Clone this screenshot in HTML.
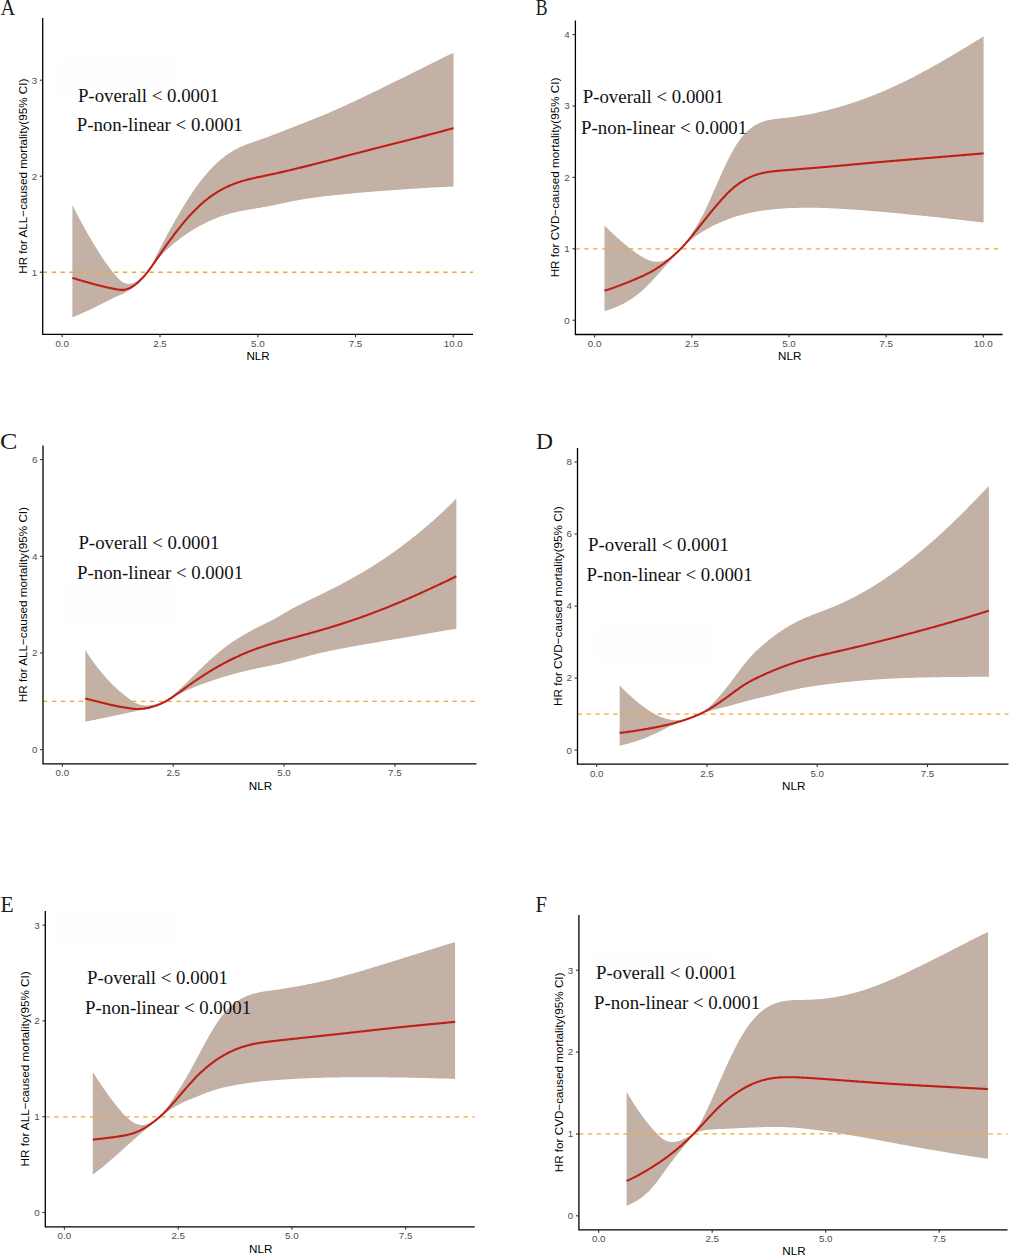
<!DOCTYPE html>
<html><head><meta charset="utf-8"><style>
html,body{margin:0;padding:0;background:#fff;}
svg{display:block;}
.lt{font-family:"Liberation Serif",serif;font-size:22.2px;fill:#1c1c1c;}
.pt{font-family:"Liberation Serif",serif;font-size:18.85px;fill:#111;}
.at{font-family:"Liberation Sans",sans-serif;font-size:9.8px;fill:#4d4d4d;}
.ti{font-family:"Liberation Sans",sans-serif;font-size:11.7px;fill:#000;}
</style></head><body>
<svg width="1010" height="1256" viewBox="0 0 1010 1256">
<rect width="1010" height="1256" fill="#fff"/>
<rect x="58" y="58" width="119" height="38.5" fill="#fdfefd"/>
<path d="M72.4,205.1 L73.4,207.1 L74.4,209.1 L75.4,211.1 L76.4,213.0 L77.4,214.9 L78.4,216.9 L79.4,218.7 L80.4,220.6 L81.4,222.5 L82.4,224.3 L83.4,226.1 L84.4,227.9 L85.4,229.7 L86.4,231.4 L87.4,233.2 L88.4,234.9 L89.4,236.6 L90.4,238.3 L91.4,240.0 L92.4,241.7 L93.4,243.4 L94.4,245.0 L95.4,246.7 L96.4,248.3 L97.4,249.9 L98.4,251.5 L99.4,253.1 L100.4,254.7 L101.4,256.2 L102.4,257.8 L103.4,259.3 L104.4,260.8 L105.4,262.2 L106.4,263.6 L107.4,265.0 L108.4,266.4 L109.4,267.8 L110.4,269.1 L111.4,270.4 L112.4,271.7 L113.4,272.9 L114.4,274.1 L115.4,275.3 L116.4,276.4 L117.4,277.5 L118.4,278.6 L119.4,279.6 L120.4,280.5 L121.4,281.3 L122.4,282.0 L123.4,282.6 L124.4,283.1 L125.4,283.4 L126.4,283.7 L127.4,283.8 L128.4,283.9 L129.4,283.8 L130.4,283.7 L131.4,283.5 L132.4,283.2 L133.4,282.9 L134.4,282.5 L135.4,282.0 L136.4,281.5 L137.4,280.9 L138.4,280.3 L139.4,279.6 L140.4,278.8 L141.4,278.0 L142.4,277.1 L143.4,276.1 L144.4,275.1 L145.4,274.1 L146.4,273.0 L147.2,272.2 L147.4,271.8 L148.4,270.3 L149.4,268.7 L150.4,267.0 L151.4,265.2 L152.4,263.3 L153.4,261.4 L154.4,259.4 L155.4,257.4 L156.4,255.4 L157.4,253.5 L158.4,251.6 L159.4,249.6 L160.4,247.7 L161.4,245.8 L162.4,243.9 L163.4,242.0 L164.4,240.1 L165.4,238.3 L166.4,236.4 L167.4,234.5 L168.4,232.7 L169.4,230.9 L170.4,229.1 L171.4,227.2 L172.4,225.5 L173.4,223.7 L174.4,221.9 L175.4,220.1 L176.4,218.4 L177.4,216.6 L178.4,214.9 L179.4,213.2 L180.4,211.5 L181.4,209.8 L182.4,208.2 L183.4,206.5 L184.4,204.9 L185.4,203.3 L186.4,201.7 L187.4,200.1 L188.4,198.5 L189.4,197.0 L190.4,195.4 L191.4,193.9 L192.4,192.4 L193.4,191.0 L194.4,189.5 L195.4,188.1 L196.4,186.7 L197.4,185.3 L198.4,184.0 L199.4,182.6 L200.4,181.3 L201.4,180.0 L202.4,178.8 L203.4,177.5 L204.4,176.3 L205.4,175.1 L206.4,173.9 L207.4,172.8 L208.4,171.7 L209.4,170.6 L210.4,169.5 L211.4,168.4 L212.4,167.4 L213.4,166.3 L214.4,165.3 L215.4,164.4 L216.4,163.4 L217.4,162.5 L218.4,161.6 L219.4,160.7 L220.4,159.8 L221.4,159.0 L222.4,158.2 L223.4,157.4 L224.4,156.6 L225.4,155.9 L226.4,155.1 L227.4,154.4 L228.4,153.7 L229.4,153.1 L230.4,152.4 L231.4,151.8 L232.4,151.2 L233.4,150.6 L234.4,150.1 L235.4,149.5 L236.4,149.0 L237.4,148.5 L238.4,148.0 L239.4,147.5 L240.4,147.0 L241.4,146.6 L242.4,146.2 L243.4,145.7 L244.4,145.3 L245.4,144.9 L246.4,144.5 L247.4,144.1 L248.4,143.8 L249.4,143.4 L250.4,143.0 L251.4,142.7 L252.4,142.3 L253.4,142.0 L254.4,141.6 L255.4,141.3 L256.4,140.9 L257.4,140.6 L258.4,140.2 L259.4,139.9 L260.4,139.5 L261.4,139.2 L262.4,138.8 L263.5,138.5 L264.5,138.1 L265.5,137.8 L266.5,137.4 L267.5,137.0 L268.5,136.7 L269.5,136.3 L270.5,135.9 L271.5,135.5 L272.5,135.1 L273.5,134.8 L274.5,134.4 L275.5,134.0 L276.5,133.6 L277.5,133.2 L278.5,132.8 L279.5,132.4 L280.5,132.0 L281.5,131.7 L282.5,131.3 L283.5,130.9 L284.5,130.5 L285.5,130.1 L286.5,129.7 L287.5,129.3 L288.5,128.9 L289.5,128.5 L290.5,128.1 L291.5,127.7 L292.5,127.4 L293.5,127.0 L294.5,126.6 L295.5,126.2 L296.5,125.8 L297.5,125.4 L298.5,125.0 L299.5,124.6 L300.5,124.2 L301.5,123.9 L302.5,123.5 L303.5,123.1 L304.5,122.7 L305.5,122.3 L306.5,121.9 L307.5,121.5 L308.5,121.1 L309.5,120.7 L310.5,120.3 L311.5,119.9 L312.5,119.5 L313.5,119.1 L314.5,118.7 L315.5,118.3 L316.5,117.9 L317.5,117.5 L318.5,117.1 L319.5,116.7 L320.5,116.3 L321.5,115.9 L322.5,115.5 L323.5,115.0 L324.5,114.6 L325.5,114.2 L326.5,113.8 L327.5,113.4 L328.5,112.9 L329.5,112.5 L330.5,112.1 L331.5,111.6 L332.5,111.2 L333.5,110.8 L334.5,110.3 L335.5,109.9 L336.5,109.5 L337.5,109.0 L338.5,108.6 L339.5,108.1 L340.5,107.7 L341.5,107.2 L342.5,106.8 L343.5,106.3 L344.5,105.9 L345.5,105.4 L346.5,105.0 L347.5,104.5 L348.5,104.1 L349.5,103.6 L350.5,103.1 L351.5,102.7 L352.5,102.2 L353.5,101.7 L354.5,101.3 L355.5,100.8 L356.5,100.3 L357.5,99.8 L358.5,99.4 L359.5,98.9 L360.5,98.4 L361.5,97.9 L362.5,97.5 L363.5,97.0 L364.5,96.5 L365.5,96.0 L366.5,95.5 L367.5,95.1 L368.5,94.6 L369.5,94.1 L370.5,93.6 L371.5,93.1 L372.5,92.6 L373.5,92.1 L374.5,91.7 L375.5,91.2 L376.5,90.7 L377.5,90.2 L378.5,89.7 L379.5,89.2 L380.5,88.7 L381.5,88.2 L382.5,87.7 L383.5,87.3 L384.5,86.8 L385.5,86.3 L386.5,85.8 L387.5,85.3 L388.5,84.8 L389.5,84.3 L390.5,83.8 L391.5,83.3 L392.5,82.8 L393.5,82.3 L394.5,81.8 L395.5,81.3 L396.5,80.8 L397.5,80.3 L398.5,79.9 L399.5,79.4 L400.5,78.9 L401.5,78.4 L402.5,77.9 L403.5,77.4 L404.5,76.9 L405.5,76.4 L406.5,75.9 L407.5,75.4 L408.5,74.9 L409.5,74.4 L410.5,73.9 L411.5,73.4 L412.5,72.9 L413.5,72.4 L414.5,71.9 L415.5,71.4 L416.5,70.9 L417.5,70.5 L418.5,70.0 L419.5,69.5 L420.5,69.0 L421.5,68.5 L422.5,68.0 L423.5,67.5 L424.5,67.0 L425.5,66.5 L426.5,66.0 L427.5,65.5 L428.5,65.0 L429.5,64.5 L430.5,64.0 L431.5,63.5 L432.5,63.0 L433.5,62.5 L434.5,62.0 L435.5,61.5 L436.5,61.0 L437.5,60.5 L438.5,60.0 L439.5,59.5 L440.5,59.0 L441.5,58.5 L442.5,58.0 L443.5,57.5 L444.5,57.0 L445.5,56.6 L446.5,56.1 L447.5,55.6 L448.5,55.1 L449.5,54.6 L450.5,54.2 L451.5,53.7 L452.5,53.2 L453.5,52.8 L453.5,186.7 L452.5,186.7 L451.5,186.7 L450.5,186.7 L449.5,186.7 L448.5,186.7 L447.5,186.8 L446.5,186.8 L445.5,186.8 L444.5,186.9 L443.5,186.9 L442.5,187.0 L441.5,187.0 L440.5,187.1 L439.5,187.1 L438.5,187.2 L437.5,187.2 L436.5,187.3 L435.5,187.3 L434.5,187.4 L433.5,187.4 L432.5,187.5 L431.5,187.6 L430.5,187.6 L429.5,187.7 L428.5,187.8 L427.5,187.8 L426.5,187.9 L425.5,187.9 L424.5,188.0 L423.5,188.1 L422.5,188.1 L421.5,188.2 L420.5,188.3 L419.5,188.3 L418.5,188.4 L417.5,188.5 L416.5,188.5 L415.5,188.6 L414.5,188.7 L413.5,188.7 L412.5,188.8 L411.5,188.9 L410.5,188.9 L409.5,189.0 L408.5,189.1 L407.5,189.1 L406.5,189.2 L405.5,189.3 L404.5,189.3 L403.5,189.4 L402.5,189.5 L401.5,189.5 L400.5,189.6 L399.5,189.7 L398.5,189.7 L397.5,189.8 L396.5,189.9 L395.5,189.9 L394.5,190.0 L393.5,190.1 L392.5,190.1 L391.5,190.2 L390.5,190.3 L389.5,190.4 L388.5,190.4 L387.5,190.5 L386.5,190.6 L385.5,190.7 L384.5,190.7 L383.5,190.8 L382.5,190.9 L381.5,191.0 L380.5,191.0 L379.5,191.1 L378.5,191.2 L377.5,191.3 L376.5,191.3 L375.5,191.4 L374.5,191.5 L373.5,191.6 L372.5,191.7 L371.5,191.7 L370.5,191.8 L369.5,191.9 L368.5,192.0 L367.5,192.1 L366.5,192.2 L365.5,192.2 L364.5,192.3 L363.5,192.4 L362.5,192.5 L361.5,192.6 L360.5,192.7 L359.5,192.8 L358.5,192.8 L357.5,192.9 L356.5,193.0 L355.5,193.1 L354.5,193.2 L353.5,193.3 L352.5,193.4 L351.5,193.5 L350.5,193.6 L349.5,193.7 L348.5,193.8 L347.5,193.9 L346.5,194.0 L345.5,194.1 L344.5,194.2 L343.5,194.3 L342.5,194.4 L341.5,194.5 L340.5,194.6 L339.5,194.7 L338.5,194.8 L337.5,194.9 L336.5,195.0 L335.5,195.1 L334.5,195.2 L333.5,195.3 L332.5,195.4 L331.5,195.5 L330.5,195.6 L329.5,195.8 L328.5,195.9 L327.5,196.0 L326.5,196.1 L325.5,196.2 L324.5,196.3 L323.5,196.5 L322.5,196.6 L321.5,196.7 L320.5,196.8 L319.5,197.0 L318.5,197.1 L317.5,197.2 L316.5,197.3 L315.5,197.5 L314.5,197.6 L313.5,197.7 L312.5,197.9 L311.5,198.0 L310.5,198.2 L309.5,198.3 L308.5,198.5 L307.5,198.6 L306.5,198.8 L305.5,198.9 L304.5,199.1 L303.5,199.2 L302.5,199.4 L301.5,199.6 L300.5,199.7 L299.5,199.9 L298.5,200.1 L297.5,200.3 L296.5,200.5 L295.5,200.7 L294.5,200.8 L293.5,201.0 L292.5,201.2 L291.5,201.4 L290.5,201.6 L289.5,201.8 L288.5,202.1 L287.5,202.3 L286.5,202.5 L285.5,202.7 L284.5,202.9 L283.5,203.1 L282.5,203.3 L281.5,203.5 L280.5,203.7 L279.5,204.0 L278.5,204.2 L277.5,204.4 L276.5,204.6 L275.5,204.8 L274.5,205.0 L273.5,205.2 L272.5,205.4 L271.5,205.6 L270.5,205.8 L269.5,206.0 L268.5,206.2 L267.5,206.4 L266.5,206.6 L265.5,206.8 L264.5,207.0 L263.5,207.1 L262.4,207.3 L261.4,207.5 L260.4,207.7 L259.4,207.8 L258.4,208.0 L257.4,208.2 L256.4,208.3 L255.4,208.5 L254.4,208.7 L253.4,208.9 L252.4,209.0 L251.4,209.2 L250.4,209.4 L249.4,209.5 L248.4,209.7 L247.4,209.9 L246.4,210.1 L245.4,210.2 L244.4,210.4 L243.4,210.6 L242.4,210.8 L241.4,211.0 L240.4,211.2 L239.4,211.4 L238.4,211.6 L237.4,211.8 L236.4,212.1 L235.4,212.3 L234.4,212.5 L233.4,212.8 L232.4,213.0 L231.4,213.3 L230.4,213.5 L229.4,213.8 L228.4,214.1 L227.4,214.4 L226.4,214.7 L225.4,215.0 L224.4,215.3 L223.4,215.6 L222.4,215.9 L221.4,216.3 L220.4,216.6 L219.4,217.0 L218.4,217.3 L217.4,217.7 L216.4,218.1 L215.4,218.5 L214.4,218.9 L213.4,219.3 L212.4,219.7 L211.4,220.2 L210.4,220.6 L209.4,221.1 L208.4,221.5 L207.4,222.0 L206.4,222.5 L205.4,223.0 L204.4,223.5 L203.4,224.0 L202.4,224.5 L201.4,225.0 L200.4,225.6 L199.4,226.1 L198.4,226.6 L197.4,227.2 L196.4,227.8 L195.4,228.4 L194.4,228.9 L193.4,229.5 L192.4,230.2 L191.4,230.8 L190.4,231.4 L189.4,232.1 L188.4,232.7 L187.4,233.4 L186.4,234.0 L185.4,234.7 L184.4,235.4 L183.4,236.1 L182.4,236.9 L181.4,237.6 L180.4,238.3 L179.4,239.1 L178.4,239.9 L177.4,240.7 L176.4,241.5 L175.4,242.3 L174.4,243.1 L173.4,243.9 L172.4,244.8 L171.4,245.6 L170.4,246.5 L169.4,247.4 L168.4,248.3 L167.4,249.2 L166.4,250.2 L165.4,251.1 L164.4,252.1 L163.4,253.1 L162.4,254.1 L161.4,255.2 L160.4,256.3 L159.4,257.4 L158.4,258.5 L157.4,259.7 L156.4,260.9 L155.4,262.2 L154.4,263.6 L153.4,265.0 L152.4,266.3 L151.4,267.6 L150.4,268.7 L149.4,269.8 L148.4,270.9 L147.4,271.9 L147.2,272.2 L146.4,273.3 L145.4,274.7 L144.4,276.1 L143.4,277.4 L142.4,278.6 L141.4,279.7 L140.4,280.8 L139.4,281.8 L138.4,282.8 L137.4,283.8 L136.4,284.7 L135.4,285.6 L134.4,286.4 L133.4,287.2 L132.4,288.0 L131.4,288.7 L130.4,289.4 L129.4,290.0 L128.4,290.7 L127.4,291.3 L126.4,291.8 L125.4,292.4 L124.4,292.9 L123.4,293.4 L122.4,293.9 L121.4,294.4 L120.4,294.8 L119.4,295.3 L118.4,295.7 L117.4,296.2 L116.4,296.6 L115.4,297.1 L114.4,297.5 L113.4,298.0 L112.4,298.5 L111.4,299.0 L110.4,299.5 L109.4,300.0 L108.4,300.5 L107.4,301.0 L106.4,301.5 L105.4,302.0 L104.4,302.5 L103.4,303.1 L102.4,303.6 L101.4,304.1 L100.4,304.6 L99.4,305.1 L98.4,305.6 L97.4,306.1 L96.4,306.6 L95.4,307.0 L94.4,307.5 L93.4,308.0 L92.4,308.5 L91.4,309.0 L90.4,309.4 L89.4,309.9 L88.4,310.4 L87.4,310.8 L86.4,311.3 L85.4,311.7 L84.4,312.2 L83.4,312.6 L82.4,313.1 L81.4,313.5 L80.4,313.9 L79.4,314.4 L78.4,314.8 L77.4,315.2 L76.4,315.7 L75.4,316.1 L74.4,316.5 L73.4,317.0 L72.4,317.4 Z" fill="#c4b1a6"/>
<line x1="42.7" y1="272.2" x2="473.0" y2="272.2" stroke="#f3a632" stroke-width="1.35" stroke-dasharray="4.45 4.45"/>
<path d="M72.4,277.9 L73.4,278.2 L74.4,278.5 L75.4,278.8 L76.4,279.1 L77.4,279.4 L78.4,279.7 L79.4,280.0 L80.4,280.3 L81.4,280.6 L82.4,280.9 L83.4,281.2 L84.4,281.4 L85.4,281.7 L86.4,282.0 L87.4,282.3 L88.4,282.6 L89.4,282.9 L90.4,283.2 L91.4,283.4 L92.4,283.7 L93.4,284.0 L94.4,284.3 L95.4,284.5 L96.4,284.8 L97.4,285.1 L98.4,285.3 L99.4,285.6 L100.4,285.8 L101.4,286.1 L102.4,286.3 L103.4,286.5 L104.4,286.8 L105.4,287.0 L106.4,287.2 L107.4,287.5 L108.4,287.7 L109.4,287.9 L110.4,288.1 L111.4,288.3 L112.4,288.5 L113.4,288.7 L114.4,288.9 L115.4,289.1 L116.4,289.3 L117.4,289.5 L118.4,289.6 L119.4,289.8 L120.4,289.9 L121.4,289.9 L122.4,289.9 L123.4,289.9 L124.4,289.8 L125.4,289.6 L126.4,289.3 L127.4,289.0 L128.4,288.6 L129.4,288.2 L130.4,287.7 L131.4,287.2 L132.4,286.6 L133.4,285.9 L134.4,285.3 L135.4,284.5 L136.4,283.7 L137.4,282.9 L138.4,282.0 L139.4,281.1 L140.4,280.1 L141.4,279.1 L142.4,278.1 L143.4,277.0 L144.4,275.8 L145.4,274.6 L146.4,273.4 L147.2,272.5 L147.4,272.2 L148.4,270.9 L149.4,269.6 L150.4,268.2 L151.4,266.9 L152.4,265.5 L153.4,264.0 L154.4,262.6 L155.4,261.2 L156.4,259.7 L157.4,258.2 L158.4,256.7 L159.4,255.3 L160.4,253.8 L161.4,252.3 L162.4,250.9 L163.4,249.4 L164.4,248.0 L165.4,246.6 L166.4,245.2 L167.4,243.8 L168.4,242.4 L169.4,241.0 L170.4,239.6 L171.4,238.3 L172.4,236.9 L173.4,235.6 L174.4,234.2 L175.4,232.9 L176.4,231.6 L177.4,230.4 L178.4,229.1 L179.4,227.8 L180.4,226.6 L181.4,225.3 L182.4,224.1 L183.4,222.9 L184.4,221.7 L185.4,220.5 L186.4,219.4 L187.4,218.2 L188.4,217.1 L189.4,216.0 L190.4,214.9 L191.4,213.8 L192.4,212.8 L193.4,211.7 L194.4,210.7 L195.4,209.7 L196.4,208.7 L197.4,207.7 L198.4,206.8 L199.4,205.8 L200.4,204.9 L201.4,204.0 L202.4,203.1 L203.4,202.2 L204.4,201.4 L205.4,200.6 L206.4,199.8 L207.4,199.0 L208.4,198.2 L209.4,197.4 L210.4,196.7 L211.4,196.0 L212.4,195.3 L213.4,194.6 L214.4,193.9 L215.4,193.3 L216.4,192.6 L217.4,192.0 L218.4,191.4 L219.4,190.8 L220.4,190.2 L221.4,189.7 L222.4,189.1 L223.4,188.6 L224.4,188.1 L225.4,187.6 L226.4,187.1 L227.4,186.6 L228.4,186.2 L229.4,185.7 L230.4,185.3 L231.4,184.9 L232.4,184.5 L233.4,184.1 L234.4,183.7 L235.4,183.3 L236.4,183.0 L237.4,182.6 L238.4,182.3 L239.4,182.0 L240.4,181.6 L241.4,181.3 L242.4,181.0 L243.4,180.7 L244.4,180.5 L245.4,180.2 L246.4,179.9 L247.4,179.6 L248.4,179.4 L249.4,179.1 L250.4,178.9 L251.4,178.7 L252.4,178.4 L253.4,178.2 L254.4,178.0 L255.4,177.8 L256.4,177.5 L257.4,177.3 L258.4,177.1 L259.4,176.9 L260.4,176.7 L261.4,176.5 L262.4,176.3 L263.5,176.1 L264.5,175.8 L265.5,175.6 L266.5,175.4 L267.5,175.2 L268.5,175.0 L269.5,174.8 L270.5,174.6 L271.5,174.3 L272.5,174.1 L273.5,173.9 L274.5,173.7 L275.5,173.5 L276.5,173.3 L277.5,173.0 L278.5,172.8 L279.5,172.6 L280.5,172.4 L281.5,172.1 L282.5,171.9 L283.5,171.7 L284.5,171.4 L285.5,171.2 L286.5,171.0 L287.5,170.7 L288.5,170.5 L289.5,170.3 L290.5,170.0 L291.5,169.8 L292.5,169.6 L293.5,169.3 L294.5,169.1 L295.5,168.8 L296.5,168.6 L297.5,168.3 L298.5,168.1 L299.5,167.8 L300.5,167.6 L301.5,167.4 L302.5,167.1 L303.5,166.9 L304.5,166.6 L305.5,166.4 L306.5,166.1 L307.5,165.9 L308.5,165.6 L309.5,165.4 L310.5,165.1 L311.5,164.9 L312.5,164.6 L313.5,164.3 L314.5,164.1 L315.5,163.8 L316.5,163.6 L317.5,163.3 L318.5,163.1 L319.5,162.8 L320.5,162.6 L321.5,162.3 L322.5,162.0 L323.5,161.8 L324.5,161.5 L325.5,161.3 L326.5,161.0 L327.5,160.8 L328.5,160.5 L329.5,160.2 L330.5,160.0 L331.5,159.7 L332.5,159.5 L333.5,159.2 L334.5,159.0 L335.5,158.7 L336.5,158.4 L337.5,158.2 L338.5,157.9 L339.5,157.7 L340.5,157.4 L341.5,157.1 L342.5,156.9 L343.5,156.6 L344.5,156.4 L345.5,156.1 L346.5,155.8 L347.5,155.6 L348.5,155.3 L349.5,155.1 L350.5,154.8 L351.5,154.5 L352.5,154.3 L353.5,154.0 L354.5,153.8 L355.5,153.5 L356.5,153.2 L357.5,153.0 L358.5,152.7 L359.5,152.5 L360.5,152.2 L361.5,151.9 L362.5,151.7 L363.5,151.4 L364.5,151.2 L365.5,150.9 L366.5,150.7 L367.5,150.4 L368.5,150.1 L369.5,149.9 L370.5,149.6 L371.5,149.4 L372.5,149.1 L373.5,148.9 L374.5,148.6 L375.5,148.3 L376.5,148.1 L377.5,147.8 L378.5,147.6 L379.5,147.3 L380.5,147.1 L381.5,146.8 L382.5,146.6 L383.5,146.3 L384.5,146.0 L385.5,145.8 L386.5,145.5 L387.5,145.3 L388.5,145.0 L389.5,144.8 L390.5,144.5 L391.5,144.3 L392.5,144.0 L393.5,143.8 L394.5,143.5 L395.5,143.3 L396.5,143.0 L397.5,142.8 L398.5,142.5 L399.5,142.2 L400.5,142.0 L401.5,141.7 L402.5,141.5 L403.5,141.2 L404.5,141.0 L405.5,140.7 L406.5,140.5 L407.5,140.2 L408.5,140.0 L409.5,139.7 L410.5,139.5 L411.5,139.2 L412.5,138.9 L413.5,138.7 L414.5,138.4 L415.5,138.2 L416.5,137.9 L417.5,137.7 L418.5,137.4 L419.5,137.2 L420.5,136.9 L421.5,136.6 L422.5,136.4 L423.5,136.1 L424.5,135.9 L425.5,135.6 L426.5,135.4 L427.5,135.1 L428.5,134.8 L429.5,134.6 L430.5,134.3 L431.5,134.0 L432.5,133.8 L433.5,133.5 L434.5,133.3 L435.5,133.0 L436.5,132.7 L437.5,132.5 L438.5,132.2 L439.5,131.9 L440.5,131.7 L441.5,131.4 L442.5,131.1 L443.5,130.9 L444.5,130.6 L445.5,130.3 L446.5,130.1 L447.5,129.8 L448.5,129.5 L449.5,129.2 L450.5,129.0 L451.5,128.7 L452.5,128.4 L453.5,128.1" fill="none" stroke="#bd1f16" stroke-width="2.1" stroke-linejoin="round" stroke-linecap="butt"/>
<path d="M42.7,18.0 L42.7,334.4 L473.0,334.4" fill="none" stroke="#000" stroke-width="1.3" stroke-linecap="butt"/>
<line x1="39.8" y1="272.2" x2="42.7" y2="272.2" stroke="#333" stroke-width="1.1"/>
<text class="at" x="37.1" y="275.6" text-anchor="end">1</text>
<line x1="39.8" y1="176.2" x2="42.7" y2="176.2" stroke="#333" stroke-width="1.1"/>
<text class="at" x="37.1" y="179.5" text-anchor="end">2</text>
<line x1="39.8" y1="80.2" x2="42.7" y2="80.2" stroke="#333" stroke-width="1.1"/>
<text class="at" x="37.1" y="83.5" text-anchor="end">3</text>
<line x1="62.2" y1="334.4" x2="62.2" y2="337.3" stroke="#333" stroke-width="1.1"/>
<text class="at" x="62.2" y="346.7" text-anchor="middle">0.0</text>
<line x1="160.0" y1="334.4" x2="160.0" y2="337.3" stroke="#333" stroke-width="1.1"/>
<text class="at" x="160.0" y="346.7" text-anchor="middle">2.5</text>
<line x1="257.8" y1="334.4" x2="257.8" y2="337.3" stroke="#333" stroke-width="1.1"/>
<text class="at" x="257.8" y="346.7" text-anchor="middle">5.0</text>
<line x1="355.5" y1="334.4" x2="355.5" y2="337.3" stroke="#333" stroke-width="1.1"/>
<text class="at" x="355.5" y="346.7" text-anchor="middle">7.5</text>
<line x1="453.3" y1="334.4" x2="453.3" y2="337.3" stroke="#333" stroke-width="1.1"/>
<text class="at" x="453.3" y="346.7" text-anchor="middle">10.0</text>
<text class="ti" transform="translate(26.7,176.2) rotate(-90)" text-anchor="middle">HR for ALL−caused mortality(95% CI)</text>
<text class="ti" x="258.1" y="359.9" text-anchor="middle">NLR</text>
<text class="pt" x="77.9" y="101.5">P-overall &lt; 0.0001</text>
<text class="pt" x="76.7" y="131.2">P-non-linear &lt; 0.0001</text>
<text class="lt" transform="translate(0.62,14.65) scale(0.92,1)">A</text>
<path d="M604.5,225.5 L605.5,226.5 L606.5,227.5 L607.5,228.5 L608.5,229.5 L609.5,230.4 L610.5,231.4 L611.5,232.3 L612.5,233.3 L613.5,234.2 L614.5,235.1 L615.5,236.0 L616.5,237.0 L617.5,237.9 L618.5,238.8 L619.5,239.6 L620.5,240.5 L621.5,241.4 L622.5,242.2 L623.5,243.1 L624.5,243.9 L625.5,244.8 L626.5,245.6 L627.5,246.4 L628.5,247.2 L629.5,248.0 L630.5,248.8 L631.5,249.5 L632.5,250.3 L633.5,251.1 L634.5,251.8 L635.5,252.5 L636.5,253.2 L637.5,253.9 L638.5,254.6 L639.5,255.3 L640.5,255.9 L641.5,256.5 L642.5,257.1 L643.5,257.7 L644.5,258.2 L645.5,258.7 L646.5,259.2 L647.5,259.6 L648.5,260.0 L649.5,260.4 L650.5,260.7 L651.5,261.0 L652.5,261.2 L653.5,261.4 L654.5,261.6 L655.5,261.7 L656.5,261.7 L657.5,261.7 L658.5,261.7 L659.5,261.6 L660.5,261.4 L661.5,261.2 L662.5,261.0 L663.5,260.7 L664.5,260.3 L665.5,259.9 L666.5,259.5 L667.5,259.0 L668.5,258.5 L669.5,257.9 L670.5,257.3 L671.5,256.6 L672.5,255.9 L673.5,255.1 L674.5,254.4 L675.5,253.5 L676.5,252.7 L677.5,251.8 L678.5,251.0 L679.5,250.1 L680.5,249.2 L680.9,248.8 L681.5,248.1 L682.5,247.0 L683.5,245.8 L684.5,244.5 L685.5,243.2 L686.5,241.9 L687.5,240.4 L688.5,238.9 L689.5,237.4 L690.5,235.9 L691.5,234.3 L692.5,232.7 L693.5,231.1 L694.5,229.5 L695.5,227.8 L696.5,226.2 L697.5,224.5 L698.5,222.8 L699.5,221.1 L700.5,219.3 L701.5,217.5 L702.5,215.6 L703.5,213.7 L704.5,211.7 L705.5,209.6 L706.5,207.5 L707.5,205.4 L708.5,203.2 L709.5,200.9 L710.5,198.7 L711.5,196.4 L712.5,194.1 L713.5,191.8 L714.5,189.5 L715.5,187.2 L716.5,185.0 L717.5,182.7 L718.5,180.4 L719.5,178.2 L720.5,175.9 L721.5,173.7 L722.5,171.5 L723.5,169.3 L724.5,167.2 L725.5,165.1 L726.5,163.0 L727.5,160.9 L728.5,158.9 L729.5,156.9 L730.5,155.0 L731.5,153.1 L732.5,151.3 L733.5,149.5 L734.5,147.8 L735.5,146.2 L736.5,144.6 L737.5,143.0 L738.5,141.6 L739.5,140.2 L740.5,138.8 L741.5,137.5 L742.5,136.3 L743.5,135.2 L744.5,134.1 L745.5,133.0 L746.5,132.0 L747.5,131.1 L748.5,130.2 L749.5,129.3 L750.5,128.5 L751.5,127.7 L752.5,127.0 L753.5,126.3 L754.5,125.7 L755.5,125.1 L756.5,124.5 L757.5,124.0 L758.5,123.5 L759.5,123.0 L760.5,122.6 L761.5,122.2 L762.5,121.8 L763.5,121.5 L764.5,121.1 L765.5,120.9 L766.5,120.6 L767.5,120.3 L768.5,120.1 L769.5,119.9 L770.5,119.7 L771.5,119.5 L772.5,119.4 L773.5,119.2 L774.5,119.1 L775.5,119.0 L776.5,118.9 L777.5,118.7 L778.5,118.6 L779.5,118.5 L780.5,118.4 L781.5,118.3 L782.5,118.2 L783.5,118.1 L784.5,118.0 L785.5,117.9 L786.5,117.8 L787.5,117.7 L788.5,117.5 L789.5,117.4 L790.5,117.3 L791.5,117.1 L792.5,117.0 L793.5,116.9 L794.6,116.7 L795.6,116.6 L796.6,116.4 L797.6,116.3 L798.6,116.1 L799.6,116.0 L800.6,115.8 L801.6,115.6 L802.6,115.5 L803.6,115.3 L804.6,115.1 L805.6,114.9 L806.6,114.8 L807.6,114.6 L808.6,114.4 L809.6,114.2 L810.6,114.0 L811.6,113.8 L812.6,113.6 L813.6,113.4 L814.6,113.2 L815.6,112.9 L816.6,112.7 L817.6,112.5 L818.6,112.3 L819.6,112.1 L820.6,111.8 L821.6,111.6 L822.6,111.4 L823.6,111.1 L824.6,110.9 L825.6,110.6 L826.6,110.4 L827.6,110.1 L828.6,109.9 L829.6,109.6 L830.6,109.3 L831.6,109.1 L832.6,108.8 L833.6,108.5 L834.6,108.3 L835.6,108.0 L836.6,107.7 L837.6,107.4 L838.6,107.1 L839.6,106.9 L840.6,106.6 L841.6,106.3 L842.6,106.0 L843.6,105.7 L844.6,105.4 L845.6,105.1 L846.6,104.8 L847.6,104.4 L848.6,104.1 L849.6,103.8 L850.6,103.5 L851.6,103.2 L852.6,102.8 L853.6,102.5 L854.6,102.2 L855.6,101.8 L856.6,101.5 L857.6,101.2 L858.6,100.8 L859.6,100.5 L860.6,100.1 L861.6,99.8 L862.6,99.4 L863.6,99.0 L864.6,98.7 L865.6,98.3 L866.6,97.9 L867.6,97.6 L868.6,97.2 L869.6,96.8 L870.6,96.4 L871.6,96.0 L872.6,95.6 L873.6,95.2 L874.6,94.8 L875.6,94.4 L876.6,94.0 L877.6,93.6 L878.6,93.2 L879.6,92.8 L880.6,92.4 L881.6,92.0 L882.6,91.5 L883.6,91.1 L884.6,90.7 L885.6,90.2 L886.6,89.8 L887.6,89.3 L888.6,88.9 L889.6,88.5 L890.6,88.0 L891.6,87.5 L892.6,87.1 L893.6,86.6 L894.6,86.2 L895.6,85.7 L896.6,85.2 L897.6,84.8 L898.6,84.3 L899.6,83.8 L900.6,83.3 L901.6,82.9 L902.6,82.4 L903.6,81.9 L904.6,81.4 L905.6,80.9 L906.6,80.4 L907.6,79.9 L908.6,79.4 L909.6,78.9 L910.6,78.4 L911.6,77.9 L912.6,77.4 L913.6,76.9 L914.6,76.4 L915.6,75.8 L916.6,75.3 L917.6,74.8 L918.6,74.3 L919.6,73.7 L920.6,73.2 L921.6,72.7 L922.6,72.2 L923.6,71.6 L924.6,71.1 L925.6,70.5 L926.6,70.0 L927.6,69.5 L928.6,68.9 L929.6,68.4 L930.6,67.8 L931.6,67.3 L932.6,66.7 L933.6,66.1 L934.6,65.6 L935.6,65.0 L936.6,64.5 L937.6,63.9 L938.6,63.3 L939.6,62.8 L940.6,62.2 L941.6,61.6 L942.6,61.0 L943.6,60.5 L944.6,59.9 L945.6,59.3 L946.6,58.7 L947.6,58.2 L948.6,57.6 L949.6,57.0 L950.6,56.4 L951.6,55.8 L952.6,55.2 L953.6,54.6 L954.6,54.0 L955.6,53.4 L956.6,52.8 L957.6,52.2 L958.6,51.6 L959.6,51.0 L960.6,50.4 L961.6,49.8 L962.6,49.2 L963.6,48.6 L964.6,48.0 L965.6,47.4 L966.6,46.8 L967.6,46.2 L968.6,45.6 L969.6,44.9 L970.6,44.3 L971.6,43.7 L972.6,43.1 L973.6,42.5 L974.6,41.9 L975.6,41.3 L976.6,40.6 L977.6,40.0 L978.6,39.4 L979.6,38.8 L980.6,38.2 L981.6,37.6 L982.6,36.9 L983.6,36.3 L983.6,222.6 L982.6,222.4 L981.6,222.3 L980.6,222.2 L979.6,222.1 L978.6,222.0 L977.6,221.9 L976.6,221.7 L975.6,221.6 L974.6,221.5 L973.6,221.4 L972.6,221.3 L971.6,221.1 L970.6,221.0 L969.6,220.9 L968.6,220.8 L967.6,220.7 L966.6,220.6 L965.6,220.4 L964.6,220.3 L963.6,220.2 L962.6,220.1 L961.6,220.0 L960.6,219.9 L959.6,219.8 L958.6,219.6 L957.6,219.5 L956.6,219.4 L955.6,219.3 L954.6,219.2 L953.6,219.1 L952.6,219.0 L951.6,218.9 L950.6,218.7 L949.6,218.6 L948.6,218.5 L947.6,218.4 L946.6,218.3 L945.6,218.2 L944.6,218.1 L943.6,218.0 L942.6,217.9 L941.6,217.8 L940.6,217.7 L939.6,217.6 L938.6,217.5 L937.6,217.3 L936.6,217.2 L935.6,217.1 L934.6,217.0 L933.6,216.9 L932.6,216.8 L931.6,216.7 L930.6,216.6 L929.6,216.5 L928.6,216.4 L927.6,216.3 L926.6,216.2 L925.6,216.1 L924.6,216.0 L923.6,215.9 L922.6,215.8 L921.6,215.7 L920.6,215.6 L919.6,215.5 L918.6,215.4 L917.6,215.3 L916.6,215.2 L915.6,215.1 L914.6,215.0 L913.6,214.9 L912.6,214.8 L911.6,214.7 L910.6,214.6 L909.6,214.5 L908.6,214.4 L907.6,214.3 L906.6,214.2 L905.6,214.1 L904.6,214.0 L903.6,213.9 L902.6,213.8 L901.6,213.7 L900.6,213.6 L899.6,213.5 L898.6,213.4 L897.6,213.3 L896.6,213.2 L895.6,213.1 L894.6,213.0 L893.6,212.9 L892.6,212.8 L891.6,212.7 L890.6,212.6 L889.6,212.5 L888.6,212.4 L887.6,212.3 L886.6,212.2 L885.6,212.2 L884.6,212.1 L883.6,212.0 L882.6,211.9 L881.6,211.8 L880.6,211.7 L879.6,211.6 L878.6,211.5 L877.6,211.4 L876.6,211.4 L875.6,211.3 L874.6,211.2 L873.6,211.1 L872.6,211.0 L871.6,210.9 L870.6,210.9 L869.6,210.8 L868.6,210.7 L867.6,210.6 L866.6,210.5 L865.6,210.5 L864.6,210.4 L863.6,210.3 L862.6,210.2 L861.6,210.2 L860.6,210.1 L859.6,210.0 L858.6,210.0 L857.6,209.9 L856.6,209.8 L855.6,209.7 L854.6,209.7 L853.6,209.6 L852.6,209.5 L851.6,209.5 L850.6,209.4 L849.6,209.3 L848.6,209.3 L847.6,209.2 L846.6,209.2 L845.6,209.1 L844.6,209.0 L843.6,209.0 L842.6,208.9 L841.6,208.9 L840.6,208.8 L839.6,208.7 L838.6,208.7 L837.6,208.6 L836.6,208.6 L835.6,208.5 L834.6,208.5 L833.6,208.4 L832.6,208.4 L831.6,208.3 L830.6,208.3 L829.6,208.2 L828.6,208.2 L827.6,208.1 L826.6,208.1 L825.6,208.0 L824.6,208.0 L823.6,208.0 L822.6,207.9 L821.6,207.9 L820.6,207.9 L819.6,207.9 L818.6,207.8 L817.6,207.8 L816.6,207.8 L815.6,207.8 L814.6,207.8 L813.6,207.8 L812.6,207.7 L811.6,207.7 L810.6,207.7 L809.6,207.7 L808.6,207.7 L807.6,207.7 L806.6,207.7 L805.6,207.7 L804.6,207.7 L803.6,207.8 L802.6,207.8 L801.6,207.8 L800.6,207.8 L799.6,207.8 L798.6,207.8 L797.6,207.9 L796.6,207.9 L795.6,207.9 L794.6,207.9 L793.5,208.0 L792.5,208.0 L791.5,208.0 L790.5,208.1 L789.5,208.1 L788.5,208.2 L787.5,208.2 L786.5,208.3 L785.5,208.3 L784.5,208.4 L783.5,208.5 L782.5,208.5 L781.5,208.6 L780.5,208.7 L779.5,208.7 L778.5,208.8 L777.5,208.9 L776.5,209.0 L775.5,209.1 L774.5,209.2 L773.5,209.3 L772.5,209.4 L771.5,209.5 L770.5,209.6 L769.5,209.7 L768.5,209.8 L767.5,209.9 L766.5,210.1 L765.5,210.2 L764.5,210.3 L763.5,210.5 L762.5,210.6 L761.5,210.8 L760.5,210.9 L759.5,211.1 L758.5,211.2 L757.5,211.4 L756.5,211.6 L755.5,211.8 L754.5,212.0 L753.5,212.2 L752.5,212.3 L751.5,212.6 L750.5,212.8 L749.5,213.0 L748.5,213.2 L747.5,213.4 L746.5,213.6 L745.5,213.9 L744.5,214.1 L743.5,214.4 L742.5,214.6 L741.5,214.9 L740.5,215.2 L739.5,215.4 L738.5,215.7 L737.5,216.0 L736.5,216.3 L735.5,216.6 L734.5,217.0 L733.5,217.3 L732.5,217.6 L731.5,218.0 L730.5,218.3 L729.5,218.7 L728.5,219.1 L727.5,219.5 L726.5,219.8 L725.5,220.2 L724.5,220.7 L723.5,221.1 L722.5,221.5 L721.5,221.9 L720.5,222.4 L719.5,222.8 L718.5,223.3 L717.5,223.7 L716.5,224.2 L715.5,224.6 L714.5,225.1 L713.5,225.6 L712.5,226.1 L711.5,226.6 L710.5,227.1 L709.5,227.7 L708.5,228.2 L707.5,228.8 L706.5,229.3 L705.5,229.9 L704.5,230.5 L703.5,231.1 L702.5,231.7 L701.5,232.3 L700.5,232.9 L699.5,233.6 L698.5,234.2 L697.5,234.9 L696.5,235.6 L695.5,236.3 L694.5,237.0 L693.5,237.8 L692.5,238.6 L691.5,239.3 L690.5,240.1 L689.5,241.0 L688.5,241.8 L687.5,242.7 L686.5,243.6 L685.5,244.5 L684.5,245.5 L683.5,246.4 L682.5,247.3 L681.5,248.3 L680.9,248.8 L680.5,249.2 L679.5,250.4 L678.5,251.5 L677.5,252.6 L676.5,253.7 L675.5,254.8 L674.5,255.9 L673.5,257.0 L672.5,258.1 L671.5,259.2 L670.5,260.3 L669.5,261.4 L668.5,262.6 L667.5,263.7 L666.5,264.8 L665.5,265.9 L664.5,267.1 L663.5,268.2 L662.5,269.3 L661.5,270.5 L660.5,271.6 L659.5,272.7 L658.5,273.8 L657.5,274.9 L656.5,276.0 L655.5,277.1 L654.5,278.2 L653.5,279.3 L652.5,280.4 L651.5,281.4 L650.5,282.5 L649.5,283.5 L648.5,284.5 L647.5,285.5 L646.5,286.5 L645.5,287.5 L644.5,288.4 L643.5,289.4 L642.5,290.3 L641.5,291.2 L640.5,292.1 L639.5,292.9 L638.5,293.7 L637.5,294.5 L636.5,295.3 L635.5,296.1 L634.5,296.8 L633.5,297.6 L632.5,298.3 L631.5,298.9 L630.5,299.6 L629.5,300.2 L628.5,300.8 L627.5,301.4 L626.5,302.0 L625.5,302.6 L624.5,303.1 L623.5,303.7 L622.5,304.2 L621.5,304.7 L620.5,305.1 L619.5,305.6 L618.5,306.1 L617.5,306.5 L616.5,306.9 L615.5,307.3 L614.5,307.7 L613.5,308.1 L612.5,308.5 L611.5,308.9 L610.5,309.2 L609.5,309.5 L608.5,309.9 L607.5,310.2 L606.5,310.5 L605.5,310.8 L604.5,311.1 Z" fill="#c4b1a6"/>
<line x1="575.4" y1="248.8" x2="1002.6" y2="248.8" stroke="#f3a632" stroke-width="1.35" stroke-dasharray="4.45 4.45"/>
<path d="M604.5,290.8 L605.5,290.4 L606.5,290.1 L607.5,289.8 L608.5,289.5 L609.5,289.1 L610.5,288.8 L611.5,288.4 L612.5,288.1 L613.5,287.7 L614.5,287.4 L615.5,287.0 L616.5,286.6 L617.5,286.3 L618.5,285.9 L619.5,285.5 L620.5,285.2 L621.5,284.8 L622.5,284.4 L623.5,284.0 L624.5,283.6 L625.5,283.2 L626.5,282.8 L627.5,282.4 L628.5,282.0 L629.5,281.6 L630.5,281.2 L631.5,280.8 L632.5,280.4 L633.5,280.0 L634.5,279.5 L635.5,279.1 L636.5,278.7 L637.5,278.3 L638.5,277.8 L639.5,277.4 L640.5,277.0 L641.5,276.5 L642.5,276.0 L643.5,275.6 L644.5,275.1 L645.5,274.6 L646.5,274.1 L647.5,273.6 L648.5,273.1 L649.5,272.6 L650.5,272.1 L651.5,271.5 L652.5,270.9 L653.5,270.4 L654.5,269.8 L655.5,269.2 L656.5,268.5 L657.5,267.9 L658.5,267.2 L659.5,266.6 L660.5,265.9 L661.5,265.2 L662.5,264.5 L663.5,263.7 L664.5,263.0 L665.5,262.2 L666.5,261.4 L667.5,260.6 L668.5,259.8 L669.5,259.0 L670.5,258.2 L671.5,257.3 L672.5,256.5 L673.5,255.6 L674.5,254.7 L675.5,253.8 L676.5,252.8 L677.5,251.9 L678.5,250.9 L679.5,250.0 L680.5,249.0 L680.9,248.6 L681.5,247.9 L682.5,246.9 L683.5,245.8 L684.5,244.7 L685.5,243.6 L686.5,242.4 L687.5,241.3 L688.5,240.1 L689.5,238.9 L690.5,237.7 L691.5,236.5 L692.5,235.2 L693.5,234.0 L694.5,232.7 L695.5,231.5 L696.5,230.2 L697.5,229.0 L698.5,227.7 L699.5,226.4 L700.5,225.2 L701.5,223.9 L702.5,222.6 L703.5,221.4 L704.5,220.1 L705.5,218.8 L706.5,217.6 L707.5,216.4 L708.5,215.1 L709.5,213.9 L710.5,212.7 L711.5,211.5 L712.5,210.2 L713.5,209.0 L714.5,207.8 L715.5,206.7 L716.5,205.5 L717.5,204.3 L718.5,203.1 L719.5,202.0 L720.5,200.8 L721.5,199.7 L722.5,198.6 L723.5,197.5 L724.5,196.4 L725.5,195.4 L726.5,194.3 L727.5,193.3 L728.5,192.3 L729.5,191.4 L730.5,190.4 L731.5,189.5 L732.5,188.6 L733.5,187.8 L734.5,186.9 L735.5,186.1 L736.5,185.3 L737.5,184.6 L738.5,183.8 L739.5,183.1 L740.5,182.5 L741.5,181.8 L742.5,181.2 L743.5,180.6 L744.5,180.0 L745.5,179.4 L746.5,178.9 L747.5,178.4 L748.5,177.9 L749.5,177.4 L750.5,177.0 L751.5,176.6 L752.5,176.1 L753.5,175.8 L754.5,175.4 L755.5,175.0 L756.5,174.7 L757.5,174.4 L758.5,174.1 L759.5,173.8 L760.5,173.6 L761.5,173.3 L762.5,173.1 L763.5,172.9 L764.5,172.7 L765.5,172.5 L766.5,172.3 L767.5,172.1 L768.5,172.0 L769.5,171.8 L770.5,171.7 L771.5,171.5 L772.5,171.4 L773.5,171.3 L774.5,171.2 L775.5,171.1 L776.5,171.0 L777.5,170.9 L778.5,170.8 L779.5,170.7 L780.5,170.6 L781.5,170.5 L782.5,170.5 L783.5,170.4 L784.5,170.3 L785.5,170.2 L786.5,170.1 L787.5,170.0 L788.5,170.0 L789.5,169.9 L790.5,169.8 L791.5,169.7 L792.5,169.6 L793.5,169.6 L794.6,169.5 L795.6,169.4 L796.6,169.3 L797.6,169.2 L798.6,169.2 L799.6,169.1 L800.6,169.0 L801.6,168.9 L802.6,168.8 L803.6,168.8 L804.6,168.7 L805.6,168.6 L806.6,168.5 L807.6,168.4 L808.6,168.4 L809.6,168.3 L810.6,168.2 L811.6,168.1 L812.6,168.0 L813.6,168.0 L814.6,167.9 L815.6,167.8 L816.6,167.7 L817.6,167.6 L818.6,167.5 L819.6,167.5 L820.6,167.4 L821.6,167.3 L822.6,167.2 L823.6,167.1 L824.6,167.0 L825.6,167.0 L826.6,166.9 L827.6,166.8 L828.6,166.7 L829.6,166.6 L830.6,166.5 L831.6,166.4 L832.6,166.3 L833.6,166.3 L834.6,166.2 L835.6,166.1 L836.6,166.0 L837.6,165.9 L838.6,165.8 L839.6,165.7 L840.6,165.6 L841.6,165.5 L842.6,165.4 L843.6,165.4 L844.6,165.3 L845.6,165.2 L846.6,165.1 L847.6,165.0 L848.6,164.9 L849.6,164.8 L850.6,164.7 L851.6,164.6 L852.6,164.5 L853.6,164.4 L854.6,164.3 L855.6,164.2 L856.6,164.2 L857.6,164.1 L858.6,164.0 L859.6,163.9 L860.6,163.8 L861.6,163.7 L862.6,163.6 L863.6,163.5 L864.6,163.4 L865.6,163.3 L866.6,163.2 L867.6,163.1 L868.6,163.0 L869.6,163.0 L870.6,162.9 L871.6,162.8 L872.6,162.7 L873.6,162.6 L874.6,162.5 L875.6,162.4 L876.6,162.3 L877.6,162.2 L878.6,162.2 L879.6,162.1 L880.6,162.0 L881.6,161.9 L882.6,161.8 L883.6,161.7 L884.6,161.6 L885.6,161.5 L886.6,161.5 L887.6,161.4 L888.6,161.3 L889.6,161.2 L890.6,161.1 L891.6,161.0 L892.6,160.9 L893.6,160.9 L894.6,160.8 L895.6,160.7 L896.6,160.6 L897.6,160.5 L898.6,160.4 L899.6,160.4 L900.6,160.3 L901.6,160.2 L902.6,160.1 L903.6,160.0 L904.6,159.9 L905.6,159.9 L906.6,159.8 L907.6,159.7 L908.6,159.6 L909.6,159.5 L910.6,159.4 L911.6,159.4 L912.6,159.3 L913.6,159.2 L914.6,159.1 L915.6,159.0 L916.6,158.9 L917.6,158.9 L918.6,158.8 L919.6,158.7 L920.6,158.6 L921.6,158.5 L922.6,158.5 L923.6,158.4 L924.6,158.3 L925.6,158.2 L926.6,158.1 L927.6,158.0 L928.6,158.0 L929.6,157.9 L930.6,157.8 L931.6,157.7 L932.6,157.6 L933.6,157.6 L934.6,157.5 L935.6,157.4 L936.6,157.3 L937.6,157.2 L938.6,157.1 L939.6,157.1 L940.6,157.0 L941.6,156.9 L942.6,156.8 L943.6,156.7 L944.6,156.6 L945.6,156.6 L946.6,156.5 L947.6,156.4 L948.6,156.3 L949.6,156.2 L950.6,156.1 L951.6,156.1 L952.6,156.0 L953.6,155.9 L954.6,155.8 L955.6,155.7 L956.6,155.6 L957.6,155.6 L958.6,155.5 L959.6,155.4 L960.6,155.3 L961.6,155.2 L962.6,155.1 L963.6,155.1 L964.6,155.0 L965.6,154.9 L966.6,154.8 L967.6,154.7 L968.6,154.6 L969.6,154.6 L970.6,154.5 L971.6,154.4 L972.6,154.3 L973.6,154.2 L974.6,154.1 L975.6,154.0 L976.6,154.0 L977.6,153.9 L978.6,153.8 L979.6,153.7 L980.6,153.6 L981.6,153.5 L982.6,153.5 L983.6,153.4" fill="none" stroke="#bd1f16" stroke-width="2.1" stroke-linejoin="round" stroke-linecap="butt"/>
<path d="M575.4,20.5 L575.4,334.5 L1002.6,334.5" fill="none" stroke="#000" stroke-width="1.3" stroke-linecap="butt"/>
<line x1="572.5" y1="320.2" x2="575.4" y2="320.2" stroke="#333" stroke-width="1.1"/>
<text class="at" x="569.8" y="323.6" text-anchor="end">0</text>
<line x1="572.5" y1="248.8" x2="575.4" y2="248.8" stroke="#333" stroke-width="1.1"/>
<text class="at" x="569.8" y="252.1" text-anchor="end">1</text>
<line x1="572.5" y1="177.4" x2="575.4" y2="177.4" stroke="#333" stroke-width="1.1"/>
<text class="at" x="569.8" y="180.7" text-anchor="end">2</text>
<line x1="572.5" y1="106.0" x2="575.4" y2="106.0" stroke="#333" stroke-width="1.1"/>
<text class="at" x="569.8" y="109.3" text-anchor="end">3</text>
<line x1="572.5" y1="34.6" x2="575.4" y2="34.6" stroke="#333" stroke-width="1.1"/>
<text class="at" x="569.8" y="37.9" text-anchor="end">4</text>
<line x1="594.6" y1="334.5" x2="594.6" y2="337.4" stroke="#333" stroke-width="1.1"/>
<text class="at" x="594.6" y="346.8" text-anchor="middle">0.0</text>
<line x1="691.8" y1="334.5" x2="691.8" y2="337.4" stroke="#333" stroke-width="1.1"/>
<text class="at" x="691.8" y="346.8" text-anchor="middle">2.5</text>
<line x1="789.0" y1="334.5" x2="789.0" y2="337.4" stroke="#333" stroke-width="1.1"/>
<text class="at" x="789.0" y="346.8" text-anchor="middle">5.0</text>
<line x1="886.1" y1="334.5" x2="886.1" y2="337.4" stroke="#333" stroke-width="1.1"/>
<text class="at" x="886.1" y="346.8" text-anchor="middle">7.5</text>
<line x1="983.3" y1="334.5" x2="983.3" y2="337.4" stroke="#333" stroke-width="1.1"/>
<text class="at" x="983.3" y="346.8" text-anchor="middle">10.0</text>
<text class="ti" transform="translate(559.4,177.5) rotate(-90)" text-anchor="middle">HR for CVD−caused mortality(95% CI)</text>
<text class="ti" x="789.8" y="359.6" text-anchor="middle">NLR</text>
<text class="pt" x="582.7" y="103.3">P-overall &lt; 0.0001</text>
<text class="pt" x="581.1" y="133.8">P-non-linear &lt; 0.0001</text>
<text class="lt" transform="translate(535.82,15.05) scale(0.8,1)">B</text>
<rect x="60" y="587" width="119" height="37" fill="#fdfefd"/>
<path d="M85.3,650.1 L86.3,651.7 L87.3,653.2 L88.3,654.7 L89.3,656.2 L90.3,657.7 L91.3,659.1 L92.3,660.5 L93.3,661.9 L94.3,663.3 L95.3,664.7 L96.3,666.0 L97.3,667.3 L98.3,668.6 L99.3,669.8 L100.3,671.1 L101.3,672.3 L102.3,673.5 L103.3,674.7 L104.3,675.8 L105.3,677.0 L106.3,678.1 L107.3,679.2 L108.3,680.3 L109.3,681.3 L110.3,682.4 L111.3,683.4 L112.3,684.4 L113.3,685.4 L114.3,686.3 L115.3,687.3 L116.3,688.2 L117.3,689.1 L118.3,690.0 L119.3,690.9 L120.3,691.7 L121.3,692.6 L122.3,693.4 L123.3,694.2 L124.3,695.0 L125.3,695.8 L126.3,696.6 L127.3,697.4 L128.3,698.1 L129.3,698.9 L130.3,699.6 L131.3,700.3 L132.3,701.0 L133.3,701.7 L134.3,702.3 L135.3,702.8 L136.3,703.3 L137.3,703.7 L138.3,704.1 L139.3,704.4 L140.3,704.7 L141.3,704.9 L142.3,705.1 L143.3,705.3 L144.3,705.4 L145.3,705.5 L146.3,705.5 L147.3,705.5 L148.3,705.5 L149.3,705.4 L150.3,705.3 L151.3,705.2 L152.3,705.0 L153.3,704.8 L154.3,704.6 L155.3,704.4 L156.3,704.1 L157.3,703.8 L158.3,703.5 L159.3,703.2 L160.3,702.8 L161.3,702.4 L162.3,702.0 L163.3,701.6 L163.9,701.3 L164.3,701.1 L165.3,700.6 L166.3,700.0 L167.3,699.3 L168.3,698.7 L169.3,698.0 L170.3,697.3 L171.3,696.5 L172.3,695.7 L173.3,694.9 L174.3,694.0 L175.3,693.2 L176.3,692.3 L177.3,691.4 L178.3,690.5 L179.3,689.6 L180.3,688.7 L181.3,687.8 L182.3,686.8 L183.3,685.9 L184.3,684.9 L185.3,684.0 L186.3,683.0 L187.3,682.0 L188.3,681.0 L189.3,680.0 L190.3,679.1 L191.3,678.1 L192.3,677.1 L193.3,676.1 L194.3,675.1 L195.3,674.1 L196.3,673.1 L197.3,672.1 L198.3,671.1 L199.3,670.1 L200.3,669.2 L201.3,668.2 L202.3,667.2 L203.3,666.2 L204.3,665.3 L205.3,664.3 L206.3,663.4 L207.3,662.4 L208.3,661.5 L209.3,660.6 L210.3,659.7 L211.3,658.8 L212.3,657.9 L213.3,657.0 L214.3,656.1 L215.3,655.2 L216.3,654.4 L217.3,653.5 L218.3,652.7 L219.3,651.8 L220.3,651.0 L221.3,650.2 L222.3,649.4 L223.3,648.6 L224.3,647.9 L225.3,647.1 L226.3,646.4 L227.3,645.6 L228.3,644.9 L229.3,644.2 L230.3,643.5 L231.3,642.8 L232.3,642.1 L233.3,641.4 L234.3,640.8 L235.3,640.1 L236.3,639.5 L237.3,638.8 L238.3,638.2 L239.3,637.6 L240.3,637.0 L241.3,636.4 L242.3,635.8 L243.3,635.2 L244.3,634.6 L245.3,634.0 L246.3,633.5 L247.3,632.9 L248.3,632.3 L249.3,631.8 L250.3,631.2 L251.3,630.7 L252.3,630.2 L253.3,629.6 L254.3,629.1 L255.3,628.6 L256.3,628.0 L257.3,627.5 L258.3,627.0 L259.3,626.5 L260.3,626.0 L261.3,625.5 L262.3,625.0 L263.3,624.5 L264.3,624.0 L265.3,623.5 L266.3,623.0 L267.3,622.5 L268.3,622.0 L269.3,621.5 L270.3,621.0 L271.3,620.5 L272.3,620.0 L273.3,619.5 L274.3,619.0 L275.3,618.4 L276.3,617.9 L277.3,617.3 L278.3,616.8 L279.3,616.2 L280.3,615.6 L281.3,615.0 L282.3,614.4 L283.3,613.8 L284.3,613.2 L285.3,612.6 L286.3,612.0 L287.3,611.4 L288.3,610.9 L289.3,610.3 L290.3,609.7 L291.3,609.1 L292.3,608.6 L293.3,608.0 L294.3,607.5 L295.3,607.0 L296.3,606.4 L297.3,605.9 L298.3,605.4 L299.3,604.9 L300.3,604.4 L301.3,603.9 L302.3,603.4 L303.3,602.9 L304.3,602.4 L305.3,602.0 L306.3,601.5 L307.3,601.0 L308.3,600.5 L309.3,600.0 L310.3,599.6 L311.3,599.1 L312.3,598.6 L313.3,598.1 L314.3,597.7 L315.3,597.2 L316.3,596.7 L317.3,596.2 L318.3,595.7 L319.3,595.3 L320.3,594.8 L321.3,594.3 L322.3,593.8 L323.3,593.3 L324.3,592.8 L325.3,592.3 L326.3,591.8 L327.3,591.3 L328.3,590.8 L329.3,590.3 L330.3,589.8 L331.3,589.3 L332.3,588.8 L333.3,588.3 L334.3,587.8 L335.3,587.3 L336.3,586.8 L337.3,586.3 L338.3,585.7 L339.3,585.2 L340.3,584.7 L341.3,584.2 L342.3,583.6 L343.3,583.1 L344.3,582.6 L345.3,582.0 L346.3,581.5 L347.3,580.9 L348.3,580.4 L349.3,579.8 L350.3,579.3 L351.3,578.7 L352.3,578.2 L353.3,577.6 L354.3,577.0 L355.3,576.5 L356.3,575.9 L357.3,575.3 L358.3,574.7 L359.3,574.2 L360.3,573.6 L361.3,573.0 L362.3,572.4 L363.3,571.8 L364.3,571.2 L365.3,570.6 L366.3,570.0 L367.3,569.4 L368.3,568.8 L369.3,568.2 L370.3,567.6 L371.3,566.9 L372.3,566.3 L373.3,565.7 L374.3,565.1 L375.3,564.4 L376.3,563.8 L377.3,563.2 L378.3,562.5 L379.3,561.9 L380.3,561.2 L381.3,560.6 L382.3,559.9 L383.3,559.2 L384.3,558.6 L385.3,557.9 L386.3,557.2 L387.3,556.5 L388.3,555.9 L389.3,555.2 L390.3,554.5 L391.3,553.8 L392.3,553.1 L393.3,552.4 L394.3,551.7 L395.3,551.0 L396.3,550.2 L397.3,549.5 L398.3,548.8 L399.3,548.1 L400.3,547.3 L401.3,546.6 L402.3,545.8 L403.3,545.1 L404.3,544.3 L405.3,543.6 L406.3,542.8 L407.3,542.0 L408.3,541.3 L409.3,540.5 L410.3,539.7 L411.3,538.9 L412.3,538.1 L413.3,537.3 L414.3,536.5 L415.3,535.7 L416.3,534.9 L417.3,534.1 L418.3,533.3 L419.3,532.5 L420.3,531.6 L421.3,530.8 L422.3,530.0 L423.3,529.1 L424.3,528.3 L425.3,527.4 L426.3,526.6 L427.3,525.7 L428.3,524.9 L429.3,524.0 L430.3,523.1 L431.3,522.3 L432.3,521.4 L433.3,520.5 L434.3,519.6 L435.3,518.7 L436.3,517.8 L437.3,516.9 L438.3,516.0 L439.3,515.1 L440.3,514.2 L441.3,513.3 L442.3,512.4 L443.3,511.4 L444.3,510.5 L445.3,509.5 L446.3,508.6 L447.3,507.6 L448.3,506.6 L449.3,505.7 L450.3,504.7 L451.3,503.7 L452.3,502.7 L453.3,501.7 L454.3,500.6 L455.3,499.6 L456.3,498.5 L456.3,628.8 L455.3,628.9 L454.3,629.1 L453.3,629.2 L452.3,629.4 L451.3,629.5 L450.3,629.7 L449.3,629.8 L448.3,630.0 L447.3,630.2 L446.3,630.3 L445.3,630.5 L444.3,630.7 L443.3,630.8 L442.3,631.0 L441.3,631.2 L440.3,631.4 L439.3,631.5 L438.3,631.7 L437.3,631.9 L436.3,632.1 L435.3,632.2 L434.3,632.4 L433.3,632.6 L432.3,632.8 L431.3,632.9 L430.3,633.1 L429.3,633.3 L428.3,633.5 L427.3,633.6 L426.3,633.8 L425.3,634.0 L424.3,634.2 L423.3,634.3 L422.3,634.5 L421.3,634.7 L420.3,634.8 L419.3,635.0 L418.3,635.2 L417.3,635.4 L416.3,635.5 L415.3,635.7 L414.3,635.9 L413.3,636.0 L412.3,636.2 L411.3,636.4 L410.3,636.6 L409.3,636.7 L408.3,636.9 L407.3,637.1 L406.3,637.2 L405.3,637.4 L404.3,637.6 L403.3,637.7 L402.3,637.9 L401.3,638.1 L400.3,638.3 L399.3,638.4 L398.3,638.6 L397.3,638.8 L396.3,638.9 L395.3,639.1 L394.3,639.3 L393.3,639.4 L392.3,639.6 L391.3,639.8 L390.3,640.0 L389.3,640.1 L388.3,640.3 L387.3,640.5 L386.3,640.6 L385.3,640.8 L384.3,641.0 L383.3,641.2 L382.3,641.3 L381.3,641.5 L380.3,641.7 L379.3,641.9 L378.3,642.0 L377.3,642.2 L376.3,642.4 L375.3,642.5 L374.3,642.7 L373.3,642.9 L372.3,643.1 L371.3,643.2 L370.3,643.4 L369.3,643.6 L368.3,643.8 L367.3,643.9 L366.3,644.1 L365.3,644.3 L364.3,644.5 L363.3,644.6 L362.3,644.8 L361.3,645.0 L360.3,645.2 L359.3,645.3 L358.3,645.5 L357.3,645.7 L356.3,645.9 L355.3,646.1 L354.3,646.2 L353.3,646.4 L352.3,646.6 L351.3,646.8 L350.3,647.0 L349.3,647.1 L348.3,647.3 L347.3,647.5 L346.3,647.7 L345.3,647.9 L344.3,648.1 L343.3,648.3 L342.3,648.4 L341.3,648.6 L340.3,648.8 L339.3,649.0 L338.3,649.2 L337.3,649.4 L336.3,649.6 L335.3,649.8 L334.3,650.0 L333.3,650.2 L332.3,650.4 L331.3,650.6 L330.3,650.8 L329.3,651.0 L328.3,651.3 L327.3,651.5 L326.3,651.7 L325.3,651.9 L324.3,652.1 L323.3,652.4 L322.3,652.6 L321.3,652.8 L320.3,653.1 L319.3,653.3 L318.3,653.5 L317.3,653.8 L316.3,654.0 L315.3,654.3 L314.3,654.5 L313.3,654.8 L312.3,655.0 L311.3,655.3 L310.3,655.6 L309.3,655.8 L308.3,656.1 L307.3,656.4 L306.3,656.6 L305.3,656.9 L304.3,657.2 L303.3,657.5 L302.3,657.7 L301.3,658.0 L300.3,658.3 L299.3,658.6 L298.3,658.8 L297.3,659.1 L296.3,659.4 L295.3,659.7 L294.3,659.9 L293.3,660.2 L292.3,660.5 L291.3,660.8 L290.3,661.0 L289.3,661.3 L288.3,661.5 L287.3,661.8 L286.3,662.0 L285.3,662.3 L284.3,662.5 L283.3,662.8 L282.3,663.0 L281.3,663.3 L280.3,663.5 L279.3,663.7 L278.3,664.0 L277.3,664.2 L276.3,664.4 L275.3,664.6 L274.3,664.8 L273.3,665.0 L272.3,665.2 L271.3,665.5 L270.3,665.7 L269.3,665.9 L268.3,666.1 L267.3,666.3 L266.3,666.5 L265.3,666.7 L264.3,666.9 L263.3,667.1 L262.3,667.3 L261.3,667.5 L260.3,667.7 L259.3,667.9 L258.3,668.1 L257.3,668.3 L256.3,668.6 L255.3,668.8 L254.3,669.0 L253.3,669.2 L252.3,669.4 L251.3,669.7 L250.3,669.9 L249.3,670.1 L248.3,670.3 L247.3,670.6 L246.3,670.8 L245.3,671.1 L244.3,671.3 L243.3,671.5 L242.3,671.8 L241.3,672.0 L240.3,672.3 L239.3,672.5 L238.3,672.8 L237.3,673.1 L236.3,673.3 L235.3,673.6 L234.3,673.8 L233.3,674.1 L232.3,674.4 L231.3,674.7 L230.3,674.9 L229.3,675.2 L228.3,675.5 L227.3,675.8 L226.3,676.1 L225.3,676.4 L224.3,676.7 L223.3,677.0 L222.3,677.3 L221.3,677.6 L220.3,677.9 L219.3,678.2 L218.3,678.5 L217.3,678.9 L216.3,679.2 L215.3,679.5 L214.3,679.9 L213.3,680.2 L212.3,680.5 L211.3,680.9 L210.3,681.2 L209.3,681.6 L208.3,681.9 L207.3,682.3 L206.3,682.6 L205.3,683.0 L204.3,683.4 L203.3,683.7 L202.3,684.1 L201.3,684.5 L200.3,684.8 L199.3,685.2 L198.3,685.6 L197.3,686.0 L196.3,686.4 L195.3,686.8 L194.3,687.2 L193.3,687.6 L192.3,688.0 L191.3,688.4 L190.3,688.8 L189.3,689.2 L188.3,689.7 L187.3,690.1 L186.3,690.6 L185.3,691.0 L184.3,691.5 L183.3,692.0 L182.3,692.4 L181.3,692.9 L180.3,693.4 L179.3,693.8 L178.3,694.3 L177.3,694.8 L176.3,695.3 L175.3,695.8 L174.3,696.2 L173.3,696.8 L172.3,697.3 L171.3,697.8 L170.3,698.4 L169.3,698.9 L168.3,699.4 L167.3,699.9 L166.3,700.3 L165.3,700.8 L164.3,701.2 L163.9,701.4 L163.3,701.7 L162.3,702.2 L161.3,702.8 L160.3,703.2 L159.3,703.7 L158.3,704.1 L157.3,704.5 L156.3,704.9 L155.3,705.3 L154.3,705.6 L153.3,706.0 L152.3,706.3 L151.3,706.7 L150.3,707.0 L149.3,707.3 L148.3,707.6 L147.3,707.9 L146.3,708.2 L145.3,708.5 L144.3,708.8 L143.3,709.1 L142.3,709.4 L141.3,709.7 L140.3,709.9 L139.3,710.2 L138.3,710.5 L137.3,710.7 L136.3,711.0 L135.3,711.2 L134.3,711.4 L133.3,711.7 L132.3,711.9 L131.3,712.1 L130.3,712.3 L129.3,712.6 L128.3,712.8 L127.3,713.0 L126.3,713.2 L125.3,713.4 L124.3,713.6 L123.3,713.8 L122.3,714.1 L121.3,714.3 L120.3,714.5 L119.3,714.7 L118.3,714.9 L117.3,715.1 L116.3,715.3 L115.3,715.5 L114.3,715.7 L113.3,716.0 L112.3,716.2 L111.3,716.4 L110.3,716.6 L109.3,716.8 L108.3,717.0 L107.3,717.2 L106.3,717.4 L105.3,717.6 L104.3,717.9 L103.3,718.1 L102.3,718.3 L101.3,718.5 L100.3,718.7 L99.3,718.9 L98.3,719.1 L97.3,719.3 L96.3,719.5 L95.3,719.7 L94.3,719.9 L93.3,720.1 L92.3,720.3 L91.3,720.5 L90.3,720.7 L89.3,720.9 L88.3,721.1 L87.3,721.3 L86.3,721.5 L85.3,721.7 Z" fill="#c4b1a6"/>
<line x1="43.0" y1="701.35" x2="476.4" y2="701.35" stroke="#f3a632" stroke-width="1.35" stroke-dasharray="4.45 4.45"/>
<path d="M85.3,698.4 L86.3,698.7 L87.3,698.9 L88.3,699.2 L89.3,699.5 L90.3,699.7 L91.3,700.0 L92.3,700.2 L93.3,700.5 L94.3,700.7 L95.3,701.0 L96.3,701.3 L97.3,701.5 L98.3,701.8 L99.3,702.0 L100.3,702.3 L101.3,702.5 L102.3,702.8 L103.3,703.0 L104.3,703.3 L105.3,703.5 L106.3,703.8 L107.3,704.0 L108.3,704.2 L109.3,704.5 L110.3,704.7 L111.3,704.9 L112.3,705.2 L113.3,705.4 L114.3,705.6 L115.3,705.8 L116.3,706.0 L117.3,706.2 L118.3,706.4 L119.3,706.6 L120.3,706.8 L121.3,707.0 L122.3,707.1 L123.3,707.3 L124.3,707.5 L125.3,707.6 L126.3,707.8 L127.3,707.9 L128.3,708.1 L129.3,708.3 L130.3,708.4 L131.3,708.5 L132.3,708.7 L133.3,708.8 L134.3,708.9 L135.3,709.0 L136.3,709.0 L137.3,709.0 L138.3,709.0 L139.3,709.0 L140.3,709.0 L141.3,708.9 L142.3,708.8 L143.3,708.7 L144.3,708.6 L145.3,708.4 L146.3,708.2 L147.3,708.1 L148.3,707.9 L149.3,707.6 L150.3,707.4 L151.3,707.1 L152.3,706.8 L153.3,706.5 L154.3,706.2 L155.3,705.9 L156.3,705.5 L157.3,705.2 L158.3,704.8 L159.3,704.4 L160.3,704.0 L161.3,703.5 L162.3,703.1 L163.3,702.6 L163.9,702.3 L164.3,702.1 L165.3,701.6 L166.3,701.0 L167.3,700.4 L168.3,699.9 L169.3,699.2 L170.3,698.6 L171.3,698.0 L172.3,697.3 L173.3,696.6 L174.3,695.9 L175.3,695.2 L176.3,694.5 L177.3,693.8 L178.3,693.1 L179.3,692.3 L180.3,691.6 L181.3,690.9 L182.3,690.1 L183.3,689.4 L184.3,688.7 L185.3,687.9 L186.3,687.2 L187.3,686.5 L188.3,685.7 L189.3,685.0 L190.3,684.3 L191.3,683.6 L192.3,682.9 L193.3,682.2 L194.3,681.5 L195.3,680.8 L196.3,680.1 L197.3,679.5 L198.3,678.8 L199.3,678.1 L200.3,677.5 L201.3,676.8 L202.3,676.1 L203.3,675.5 L204.3,674.9 L205.3,674.2 L206.3,673.6 L207.3,673.0 L208.3,672.3 L209.3,671.7 L210.3,671.1 L211.3,670.5 L212.3,669.9 L213.3,669.3 L214.3,668.7 L215.3,668.1 L216.3,667.5 L217.3,667.0 L218.3,666.4 L219.3,665.8 L220.3,665.3 L221.3,664.7 L222.3,664.2 L223.3,663.6 L224.3,663.1 L225.3,662.6 L226.3,662.0 L227.3,661.5 L228.3,661.0 L229.3,660.5 L230.3,660.0 L231.3,659.5 L232.3,659.0 L233.3,658.5 L234.3,658.0 L235.3,657.5 L236.3,657.1 L237.3,656.6 L238.3,656.2 L239.3,655.7 L240.3,655.2 L241.3,654.8 L242.3,654.4 L243.3,653.9 L244.3,653.5 L245.3,653.1 L246.3,652.7 L247.3,652.3 L248.3,651.8 L249.3,651.4 L250.3,651.0 L251.3,650.7 L252.3,650.3 L253.3,649.9 L254.3,649.5 L255.3,649.1 L256.3,648.8 L257.3,648.4 L258.3,648.1 L259.3,647.7 L260.3,647.4 L261.3,647.0 L262.3,646.7 L263.3,646.4 L264.3,646.0 L265.3,645.7 L266.3,645.4 L267.3,645.1 L268.3,644.8 L269.3,644.5 L270.3,644.2 L271.3,643.9 L272.3,643.6 L273.3,643.3 L274.3,643.0 L275.3,642.7 L276.3,642.4 L277.3,642.1 L278.3,641.9 L279.3,641.6 L280.3,641.3 L281.3,641.0 L282.3,640.8 L283.3,640.5 L284.3,640.2 L285.3,639.9 L286.3,639.7 L287.3,639.4 L288.3,639.1 L289.3,638.9 L290.3,638.6 L291.3,638.3 L292.3,638.0 L293.3,637.8 L294.3,637.5 L295.3,637.2 L296.3,637.0 L297.3,636.7 L298.3,636.4 L299.3,636.1 L300.3,635.9 L301.3,635.6 L302.3,635.3 L303.3,635.1 L304.3,634.8 L305.3,634.5 L306.3,634.2 L307.3,634.0 L308.3,633.7 L309.3,633.4 L310.3,633.1 L311.3,632.8 L312.3,632.6 L313.3,632.3 L314.3,632.0 L315.3,631.7 L316.3,631.4 L317.3,631.2 L318.3,630.9 L319.3,630.6 L320.3,630.3 L321.3,630.0 L322.3,629.7 L323.3,629.4 L324.3,629.1 L325.3,628.8 L326.3,628.5 L327.3,628.2 L328.3,628.0 L329.3,627.7 L330.3,627.3 L331.3,627.0 L332.3,626.7 L333.3,626.4 L334.3,626.1 L335.3,625.8 L336.3,625.5 L337.3,625.2 L338.3,624.9 L339.3,624.6 L340.3,624.2 L341.3,623.9 L342.3,623.6 L343.3,623.3 L344.3,622.9 L345.3,622.6 L346.3,622.3 L347.3,622.0 L348.3,621.6 L349.3,621.3 L350.3,621.0 L351.3,620.6 L352.3,620.3 L353.3,619.9 L354.3,619.6 L355.3,619.3 L356.3,618.9 L357.3,618.6 L358.3,618.2 L359.3,617.9 L360.3,617.5 L361.3,617.2 L362.3,616.8 L363.3,616.4 L364.3,616.1 L365.3,615.7 L366.3,615.4 L367.3,615.0 L368.3,614.6 L369.3,614.3 L370.3,613.9 L371.3,613.5 L372.3,613.2 L373.3,612.8 L374.3,612.4 L375.3,612.0 L376.3,611.6 L377.3,611.3 L378.3,610.9 L379.3,610.5 L380.3,610.1 L381.3,609.7 L382.3,609.3 L383.3,608.9 L384.3,608.6 L385.3,608.2 L386.3,607.8 L387.3,607.4 L388.3,607.0 L389.3,606.6 L390.3,606.1 L391.3,605.7 L392.3,605.3 L393.3,604.9 L394.3,604.5 L395.3,604.1 L396.3,603.7 L397.3,603.3 L398.3,602.8 L399.3,602.4 L400.3,602.0 L401.3,601.6 L402.3,601.1 L403.3,600.7 L404.3,600.3 L405.3,599.9 L406.3,599.4 L407.3,599.0 L408.3,598.6 L409.3,598.1 L410.3,597.7 L411.3,597.2 L412.3,596.8 L413.3,596.4 L414.3,595.9 L415.3,595.5 L416.3,595.0 L417.3,594.6 L418.3,594.1 L419.3,593.7 L420.3,593.2 L421.3,592.8 L422.3,592.3 L423.3,591.9 L424.3,591.4 L425.3,590.9 L426.3,590.5 L427.3,590.0 L428.3,589.6 L429.3,589.1 L430.3,588.6 L431.3,588.2 L432.3,587.7 L433.3,587.3 L434.3,586.8 L435.3,586.3 L436.3,585.9 L437.3,585.4 L438.3,584.9 L439.3,584.4 L440.3,584.0 L441.3,583.5 L442.3,583.0 L443.3,582.6 L444.3,582.1 L445.3,581.6 L446.3,581.1 L447.3,580.7 L448.3,580.2 L449.3,579.7 L450.3,579.2 L451.3,578.7 L452.3,578.2 L453.3,577.8 L454.3,577.3 L455.3,576.8 L456.3,576.3" fill="none" stroke="#bd1f16" stroke-width="2.1" stroke-linejoin="round" stroke-linecap="butt"/>
<path d="M43.0,445.5 L43.0,763.8 L476.4,763.8" fill="none" stroke="#000" stroke-width="1.3" stroke-linecap="butt"/>
<line x1="40.1" y1="749.7" x2="43.0" y2="749.7" stroke="#333" stroke-width="1.1"/>
<text class="at" x="37.4" y="753.1" text-anchor="end">0</text>
<line x1="40.1" y1="653.0" x2="43.0" y2="653.0" stroke="#333" stroke-width="1.1"/>
<text class="at" x="37.4" y="656.4" text-anchor="end">2</text>
<line x1="40.1" y1="556.3" x2="43.0" y2="556.3" stroke="#333" stroke-width="1.1"/>
<text class="at" x="37.4" y="559.7" text-anchor="end">4</text>
<line x1="40.1" y1="459.6" x2="43.0" y2="459.6" stroke="#333" stroke-width="1.1"/>
<text class="at" x="37.4" y="463.0" text-anchor="end">6</text>
<line x1="62.4" y1="763.8" x2="62.4" y2="766.7" stroke="#333" stroke-width="1.1"/>
<text class="at" x="62.4" y="776.1" text-anchor="middle">0.0</text>
<line x1="173.2" y1="763.8" x2="173.2" y2="766.7" stroke="#333" stroke-width="1.1"/>
<text class="at" x="173.2" y="776.1" text-anchor="middle">2.5</text>
<line x1="284.0" y1="763.8" x2="284.0" y2="766.7" stroke="#333" stroke-width="1.1"/>
<text class="at" x="284.0" y="776.1" text-anchor="middle">5.0</text>
<line x1="394.9" y1="763.8" x2="394.9" y2="766.7" stroke="#333" stroke-width="1.1"/>
<text class="at" x="394.9" y="776.1" text-anchor="middle">7.5</text>
<text class="ti" transform="translate(27.0,604.6) rotate(-90)" text-anchor="middle">HR for ALL−caused mortality(95% CI)</text>
<text class="ti" x="260.5" y="789.5" text-anchor="middle">NLR</text>
<text class="pt" x="78.4" y="548.7">P-overall &lt; 0.0001</text>
<text class="pt" x="77.0" y="579.0">P-non-linear &lt; 0.0001</text>
<text class="lt" transform="translate(-0.05,448.50) scale(1.17,1)">C</text>
<rect x="594.8" y="627" width="119.80000000000007" height="35.60000000000002" fill="#fdfefd"/>
<path d="M619.6,685.5 L620.6,686.5 L621.6,687.5 L622.6,688.5 L623.6,689.5 L624.6,690.5 L625.6,691.5 L626.6,692.4 L627.6,693.4 L628.6,694.3 L629.6,695.2 L630.6,696.1 L631.6,697.0 L632.6,697.9 L633.6,698.7 L634.6,699.6 L635.6,700.4 L636.6,701.3 L637.6,702.1 L638.6,702.9 L639.6,703.7 L640.6,704.5 L641.6,705.2 L642.6,706.0 L643.6,706.8 L644.6,707.5 L645.6,708.2 L646.6,708.9 L647.6,709.6 L648.6,710.3 L649.6,711.0 L650.6,711.6 L651.6,712.2 L652.6,712.8 L653.6,713.4 L654.6,714.0 L655.6,714.5 L656.6,715.0 L657.6,715.5 L658.6,716.0 L659.6,716.4 L660.6,716.9 L661.6,717.3 L662.6,717.6 L663.6,718.0 L664.6,718.3 L665.6,718.6 L666.6,718.9 L667.6,719.1 L668.6,719.3 L669.6,719.5 L670.6,719.7 L671.6,719.9 L672.6,720.0 L673.6,720.1 L674.6,720.2 L675.6,720.2 L676.6,720.3 L677.6,720.3 L678.6,720.3 L679.6,720.2 L680.6,720.1 L681.7,720.0 L682.7,719.9 L683.7,719.8 L684.7,719.6 L685.7,719.4 L686.7,719.2 L687.7,718.9 L688.7,718.5 L689.7,718.1 L690.7,717.7 L691.7,717.3 L692.7,716.9 L693.7,716.4 L694.7,716.0 L695.7,715.6 L696.7,715.1 L697.7,714.7 L698.7,714.2 L698.9,714.1 L699.7,713.7 L700.7,713.1 L701.7,712.5 L702.7,711.9 L703.7,711.3 L704.7,710.7 L705.7,710.0 L706.7,709.3 L707.7,708.5 L708.7,707.6 L709.7,706.6 L710.7,705.7 L711.7,704.7 L712.7,703.6 L713.7,702.6 L714.7,701.5 L715.7,700.4 L716.7,699.3 L717.7,698.2 L718.7,697.0 L719.7,695.8 L720.7,694.7 L721.7,693.5 L722.7,692.3 L723.7,691.1 L724.7,689.9 L725.7,688.6 L726.7,687.4 L727.7,686.1 L728.7,684.9 L729.7,683.6 L730.7,682.3 L731.7,681.0 L732.7,679.6 L733.7,678.3 L734.7,676.9 L735.7,675.6 L736.7,674.2 L737.7,672.9 L738.7,671.5 L739.7,670.2 L740.7,668.8 L741.7,667.5 L742.7,666.2 L743.7,664.9 L744.7,663.7 L745.7,662.5 L746.7,661.3 L747.7,660.1 L748.7,658.9 L749.7,657.8 L750.7,656.7 L751.7,655.6 L752.7,654.6 L753.7,653.6 L754.7,652.6 L755.7,651.6 L756.7,650.6 L757.7,649.7 L758.7,648.8 L759.7,647.9 L760.7,647.0 L761.7,646.1 L762.7,645.2 L763.7,644.3 L764.7,643.5 L765.7,642.6 L766.7,641.8 L767.7,641.0 L768.7,640.1 L769.7,639.3 L770.7,638.5 L771.7,637.8 L772.7,637.0 L773.7,636.2 L774.7,635.5 L775.7,634.7 L776.7,634.0 L777.7,633.3 L778.7,632.6 L779.7,631.9 L780.7,631.2 L781.7,630.6 L782.7,629.9 L783.7,629.3 L784.7,628.6 L785.7,628.0 L786.7,627.4 L787.7,626.8 L788.7,626.2 L789.7,625.6 L790.7,625.0 L791.7,624.5 L792.7,623.9 L793.7,623.4 L794.7,622.9 L795.7,622.3 L796.7,621.8 L797.7,621.3 L798.7,620.8 L799.7,620.4 L800.7,619.9 L801.7,619.4 L802.7,619.0 L803.7,618.5 L804.8,618.1 L805.8,617.6 L806.8,617.2 L807.8,616.8 L808.8,616.4 L809.8,615.9 L810.8,615.5 L811.8,615.1 L812.8,614.7 L813.8,614.4 L814.8,614.0 L815.8,613.6 L816.8,613.2 L817.8,612.8 L818.8,612.4 L819.8,612.1 L820.8,611.7 L821.8,611.3 L822.8,610.9 L823.8,610.5 L824.8,610.2 L825.8,609.8 L826.8,609.4 L827.8,609.0 L828.8,608.6 L829.8,608.2 L830.8,607.8 L831.8,607.4 L832.8,607.0 L833.8,606.6 L834.8,606.2 L835.8,605.8 L836.8,605.3 L837.8,604.9 L838.8,604.5 L839.8,604.0 L840.8,603.6 L841.8,603.1 L842.8,602.7 L843.8,602.2 L844.8,601.7 L845.8,601.3 L846.8,600.8 L847.8,600.3 L848.8,599.8 L849.8,599.3 L850.8,598.8 L851.8,598.3 L852.8,597.8 L853.8,597.3 L854.8,596.7 L855.8,596.2 L856.8,595.7 L857.8,595.2 L858.8,594.6 L859.8,594.1 L860.8,593.5 L861.8,593.0 L862.8,592.4 L863.8,591.8 L864.8,591.3 L865.8,590.7 L866.8,590.1 L867.8,589.5 L868.8,589.0 L869.8,588.4 L870.8,587.8 L871.8,587.2 L872.8,586.5 L873.8,585.9 L874.8,585.3 L875.8,584.7 L876.8,584.1 L877.8,583.4 L878.8,582.8 L879.8,582.2 L880.8,581.5 L881.8,580.9 L882.8,580.2 L883.8,579.5 L884.8,578.9 L885.8,578.2 L886.8,577.5 L887.8,576.8 L888.8,576.1 L889.8,575.4 L890.8,574.7 L891.8,574.0 L892.8,573.3 L893.8,572.6 L894.8,571.9 L895.8,571.2 L896.8,570.4 L897.8,569.7 L898.8,568.9 L899.8,568.2 L900.8,567.4 L901.8,566.7 L902.8,565.9 L903.8,565.1 L904.8,564.4 L905.8,563.6 L906.8,562.8 L907.8,562.0 L908.8,561.2 L909.8,560.4 L910.8,559.6 L911.8,558.8 L912.8,558.0 L913.8,557.2 L914.8,556.4 L915.8,555.5 L916.8,554.7 L917.8,553.9 L918.8,553.1 L919.8,552.2 L920.8,551.4 L921.8,550.5 L922.8,549.7 L923.8,548.8 L924.8,548.0 L925.8,547.1 L926.8,546.2 L927.9,545.4 L928.9,544.5 L929.9,543.6 L930.9,542.7 L931.9,541.8 L932.9,541.0 L933.9,540.1 L934.9,539.2 L935.9,538.3 L936.9,537.4 L937.9,536.5 L938.9,535.6 L939.9,534.7 L940.9,533.7 L941.9,532.8 L942.9,531.9 L943.9,531.0 L944.9,530.1 L945.9,529.1 L946.9,528.2 L947.9,527.3 L948.9,526.3 L949.9,525.4 L950.9,524.4 L951.9,523.5 L952.9,522.5 L953.9,521.5 L954.9,520.6 L955.9,519.6 L956.9,518.6 L957.9,517.7 L958.9,516.7 L959.9,515.7 L960.9,514.7 L961.9,513.7 L962.9,512.7 L963.9,511.7 L964.9,510.7 L965.9,509.7 L966.9,508.7 L967.9,507.6 L968.9,506.6 L969.9,505.6 L970.9,504.6 L971.9,503.5 L972.9,502.5 L973.9,501.5 L974.9,500.4 L975.9,499.4 L976.9,498.4 L977.9,497.3 L978.9,496.3 L979.9,495.3 L980.9,494.2 L981.9,493.2 L982.9,492.2 L983.9,491.1 L984.9,490.1 L985.9,489.1 L986.9,488.1 L987.9,487.1 L988.9,486.1 L988.9,676.7 L987.9,676.7 L986.9,676.7 L985.9,676.7 L984.9,676.7 L983.9,676.7 L982.9,676.7 L981.9,676.7 L980.9,676.7 L979.9,676.8 L978.9,676.8 L977.9,676.8 L976.9,676.8 L975.9,676.8 L974.9,676.8 L973.9,676.8 L972.9,676.8 L971.9,676.8 L970.9,676.8 L969.9,676.8 L968.9,676.8 L967.9,676.8 L966.9,676.9 L965.9,676.9 L964.9,676.9 L963.9,676.9 L962.9,676.9 L961.9,676.9 L960.9,676.9 L959.9,676.9 L958.9,676.9 L957.9,676.9 L956.9,676.9 L955.9,677.0 L954.9,677.0 L953.9,677.0 L952.9,677.0 L951.9,677.0 L950.9,677.0 L949.9,677.0 L948.9,677.0 L947.9,677.1 L946.9,677.1 L945.9,677.1 L944.9,677.1 L943.9,677.1 L942.9,677.1 L941.9,677.1 L940.9,677.2 L939.9,677.2 L938.9,677.2 L937.9,677.2 L936.9,677.2 L935.9,677.2 L934.9,677.3 L933.9,677.3 L932.9,677.3 L931.9,677.3 L930.9,677.3 L929.9,677.4 L928.9,677.4 L927.9,677.4 L926.8,677.4 L925.8,677.4 L924.8,677.5 L923.8,677.5 L922.8,677.5 L921.8,677.5 L920.8,677.6 L919.8,677.6 L918.8,677.6 L917.8,677.6 L916.8,677.7 L915.8,677.7 L914.8,677.7 L913.8,677.8 L912.8,677.8 L911.8,677.8 L910.8,677.8 L909.8,677.9 L908.8,677.9 L907.8,677.9 L906.8,678.0 L905.8,678.0 L904.8,678.0 L903.8,678.1 L902.8,678.1 L901.8,678.2 L900.8,678.2 L899.8,678.2 L898.8,678.3 L897.8,678.3 L896.8,678.4 L895.8,678.4 L894.8,678.4 L893.8,678.5 L892.8,678.5 L891.8,678.6 L890.8,678.6 L889.8,678.7 L888.8,678.7 L887.8,678.8 L886.8,678.8 L885.8,678.9 L884.8,678.9 L883.8,679.0 L882.8,679.1 L881.8,679.1 L880.8,679.2 L879.8,679.2 L878.8,679.3 L877.8,679.4 L876.8,679.4 L875.8,679.5 L874.8,679.6 L873.8,679.6 L872.8,679.7 L871.8,679.8 L870.8,679.8 L869.8,679.9 L868.8,680.0 L867.8,680.1 L866.8,680.1 L865.8,680.2 L864.8,680.3 L863.8,680.4 L862.8,680.5 L861.8,680.6 L860.8,680.6 L859.8,680.7 L858.8,680.8 L857.8,680.9 L856.8,681.0 L855.8,681.1 L854.8,681.2 L853.8,681.3 L852.8,681.4 L851.8,681.5 L850.8,681.6 L849.8,681.7 L848.8,681.8 L847.8,681.9 L846.8,682.0 L845.8,682.1 L844.8,682.2 L843.8,682.3 L842.8,682.4 L841.8,682.5 L840.8,682.6 L839.8,682.8 L838.8,682.9 L837.8,683.0 L836.8,683.1 L835.8,683.2 L834.8,683.3 L833.8,683.5 L832.8,683.6 L831.8,683.7 L830.8,683.8 L829.8,684.0 L828.8,684.1 L827.8,684.2 L826.8,684.3 L825.8,684.5 L824.8,684.6 L823.8,684.7 L822.8,684.9 L821.8,685.0 L820.8,685.1 L819.8,685.3 L818.8,685.4 L817.8,685.5 L816.8,685.7 L815.8,685.8 L814.8,686.0 L813.8,686.1 L812.8,686.3 L811.8,686.4 L810.8,686.6 L809.8,686.7 L808.8,686.9 L807.8,687.1 L806.8,687.2 L805.8,687.4 L804.8,687.6 L803.7,687.8 L802.7,687.9 L801.7,688.1 L800.7,688.3 L799.7,688.5 L798.7,688.7 L797.7,688.9 L796.7,689.1 L795.7,689.3 L794.7,689.5 L793.7,689.7 L792.7,689.9 L791.7,690.2 L790.7,690.4 L789.7,690.6 L788.7,690.8 L787.7,691.1 L786.7,691.3 L785.7,691.5 L784.7,691.8 L783.7,692.0 L782.7,692.2 L781.7,692.5 L780.7,692.7 L779.7,693.0 L778.7,693.2 L777.7,693.5 L776.7,693.7 L775.7,694.0 L774.7,694.2 L773.7,694.4 L772.7,694.7 L771.7,694.9 L770.7,695.2 L769.7,695.4 L768.7,695.7 L767.7,695.9 L766.7,696.1 L765.7,696.4 L764.7,696.6 L763.7,696.9 L762.7,697.1 L761.7,697.4 L760.7,697.6 L759.7,697.9 L758.7,698.1 L757.7,698.3 L756.7,698.6 L755.7,698.8 L754.7,699.1 L753.7,699.3 L752.7,699.6 L751.7,699.8 L750.7,700.1 L749.7,700.3 L748.7,700.6 L747.7,700.8 L746.7,701.1 L745.7,701.3 L744.7,701.6 L743.7,701.9 L742.7,702.1 L741.7,702.4 L740.7,702.7 L739.7,703.0 L738.7,703.3 L737.7,703.5 L736.7,703.8 L735.7,704.1 L734.7,704.4 L733.7,704.7 L732.7,705.0 L731.7,705.2 L730.7,705.5 L729.7,705.8 L728.7,706.1 L727.7,706.3 L726.7,706.6 L725.7,706.8 L724.7,707.1 L723.7,707.3 L722.7,707.6 L721.7,707.8 L720.7,708.0 L719.7,708.3 L718.7,708.5 L717.7,708.8 L716.7,709.1 L715.7,709.3 L714.7,709.6 L713.7,709.8 L712.7,710.1 L711.7,710.4 L710.7,710.7 L709.7,711.0 L708.7,711.2 L707.7,711.5 L706.7,711.8 L705.7,712.0 L704.7,712.2 L703.7,712.4 L702.7,712.7 L701.7,713.0 L700.7,713.4 L699.7,713.8 L698.9,714.1 L698.7,714.2 L697.7,714.8 L696.7,715.3 L695.7,715.8 L694.7,716.2 L693.7,716.6 L692.7,717.0 L691.7,717.3 L690.7,717.7 L689.7,718.0 L688.7,718.3 L687.7,718.6 L686.7,719.0 L685.7,719.4 L684.7,719.9 L683.7,720.3 L682.7,720.7 L681.7,721.2 L680.6,721.6 L679.6,722.0 L678.6,722.5 L677.6,722.9 L676.6,723.4 L675.6,723.8 L674.6,724.3 L673.6,724.7 L672.6,725.2 L671.6,725.7 L670.6,726.1 L669.6,726.6 L668.6,727.1 L667.6,727.6 L666.6,728.0 L665.6,728.5 L664.6,729.0 L663.6,729.5 L662.6,730.0 L661.6,730.5 L660.6,731.0 L659.6,731.4 L658.6,731.9 L657.6,732.4 L656.6,732.9 L655.6,733.4 L654.6,733.8 L653.6,734.3 L652.6,734.7 L651.6,735.2 L650.6,735.6 L649.6,736.1 L648.6,736.5 L647.6,736.9 L646.6,737.4 L645.6,737.8 L644.6,738.2 L643.6,738.6 L642.6,738.9 L641.6,739.3 L640.6,739.7 L639.6,740.1 L638.6,740.4 L637.6,740.7 L636.6,741.1 L635.6,741.4 L634.6,741.7 L633.6,742.0 L632.6,742.3 L631.6,742.6 L630.6,742.9 L629.6,743.2 L628.6,743.5 L627.6,743.7 L626.6,744.0 L625.6,744.3 L624.6,744.5 L623.6,744.8 L622.6,745.0 L621.6,745.2 L620.6,745.5 L619.6,745.7 Z" fill="#c4b1a6"/>
<line x1="577.5" y1="714.1" x2="1008.5" y2="714.1" stroke="#f3a632" stroke-width="1.35" stroke-dasharray="4.45 4.45"/>
<path d="M619.6,733.0 L620.6,732.8 L621.6,732.7 L622.6,732.6 L623.6,732.5 L624.6,732.3 L625.6,732.2 L626.6,732.1 L627.6,731.9 L628.6,731.8 L629.6,731.6 L630.6,731.5 L631.6,731.4 L632.6,731.2 L633.6,731.1 L634.6,730.9 L635.6,730.8 L636.6,730.6 L637.6,730.5 L638.6,730.3 L639.6,730.1 L640.6,730.0 L641.6,729.8 L642.6,729.6 L643.6,729.5 L644.6,729.3 L645.6,729.1 L646.6,729.0 L647.6,728.8 L648.6,728.6 L649.6,728.4 L650.6,728.2 L651.6,728.1 L652.6,727.9 L653.6,727.7 L654.6,727.5 L655.6,727.3 L656.6,727.1 L657.6,726.9 L658.6,726.7 L659.6,726.5 L660.6,726.3 L661.6,726.1 L662.6,725.8 L663.6,725.6 L664.6,725.4 L665.6,725.2 L666.6,724.9 L667.6,724.7 L668.6,724.5 L669.6,724.2 L670.6,724.0 L671.6,723.7 L672.6,723.5 L673.6,723.2 L674.6,723.0 L675.6,722.7 L676.6,722.4 L677.6,722.1 L678.6,721.8 L679.6,721.5 L680.6,721.2 L681.7,720.9 L682.7,720.6 L683.7,720.3 L684.7,720.0 L685.7,719.6 L686.7,719.3 L687.7,718.9 L688.7,718.6 L689.7,718.2 L690.7,717.8 L691.7,717.4 L692.7,717.1 L693.7,716.7 L694.7,716.3 L695.7,715.8 L696.7,715.4 L697.7,715.0 L698.7,714.6 L698.9,714.4 L699.7,714.1 L700.7,713.6 L701.7,713.1 L702.7,712.6 L703.7,712.1 L704.7,711.6 L705.7,711.1 L706.7,710.5 L707.7,709.9 L708.7,709.4 L709.7,708.8 L710.7,708.2 L711.7,707.5 L712.7,706.9 L713.7,706.3 L714.7,705.6 L715.7,705.0 L716.7,704.3 L717.7,703.7 L718.7,703.0 L719.7,702.3 L720.7,701.6 L721.7,700.9 L722.7,700.2 L723.7,699.5 L724.7,698.8 L725.7,698.1 L726.7,697.3 L727.7,696.6 L728.7,695.9 L729.7,695.1 L730.7,694.4 L731.7,693.7 L732.7,692.9 L733.7,692.2 L734.7,691.4 L735.7,690.7 L736.7,690.0 L737.7,689.3 L738.7,688.6 L739.7,687.9 L740.7,687.2 L741.7,686.5 L742.7,685.8 L743.7,685.2 L744.7,684.6 L745.7,683.9 L746.7,683.3 L747.7,682.7 L748.7,682.2 L749.7,681.6 L750.7,681.1 L751.7,680.5 L752.7,680.0 L753.7,679.5 L754.7,679.0 L755.7,678.5 L756.7,678.0 L757.7,677.5 L758.7,677.0 L759.7,676.6 L760.7,676.1 L761.7,675.6 L762.7,675.2 L763.7,674.7 L764.7,674.3 L765.7,673.8 L766.7,673.4 L767.7,672.9 L768.7,672.5 L769.7,672.1 L770.7,671.7 L771.7,671.2 L772.7,670.8 L773.7,670.4 L774.7,670.0 L775.7,669.6 L776.7,669.2 L777.7,668.8 L778.7,668.4 L779.7,668.0 L780.7,667.6 L781.7,667.2 L782.7,666.8 L783.7,666.4 L784.7,666.1 L785.7,665.7 L786.7,665.3 L787.7,665.0 L788.7,664.6 L789.7,664.3 L790.7,663.9 L791.7,663.6 L792.7,663.2 L793.7,662.9 L794.7,662.6 L795.7,662.2 L796.7,661.9 L797.7,661.6 L798.7,661.3 L799.7,661.0 L800.7,660.7 L801.7,660.4 L802.7,660.1 L803.7,659.8 L804.8,659.5 L805.8,659.2 L806.8,658.9 L807.8,658.6 L808.8,658.4 L809.8,658.1 L810.8,657.8 L811.8,657.6 L812.8,657.3 L813.8,657.0 L814.8,656.8 L815.8,656.5 L816.8,656.3 L817.8,656.0 L818.8,655.8 L819.8,655.5 L820.8,655.3 L821.8,655.1 L822.8,654.8 L823.8,654.6 L824.8,654.4 L825.8,654.1 L826.8,653.9 L827.8,653.7 L828.8,653.4 L829.8,653.2 L830.8,653.0 L831.8,652.7 L832.8,652.5 L833.8,652.3 L834.8,652.0 L835.8,651.8 L836.8,651.6 L837.8,651.4 L838.8,651.1 L839.8,650.9 L840.8,650.7 L841.8,650.4 L842.8,650.2 L843.8,650.0 L844.8,649.7 L845.8,649.5 L846.8,649.3 L847.8,649.0 L848.8,648.8 L849.8,648.6 L850.8,648.3 L851.8,648.1 L852.8,647.9 L853.8,647.6 L854.8,647.4 L855.8,647.1 L856.8,646.9 L857.8,646.7 L858.8,646.4 L859.8,646.2 L860.8,646.0 L861.8,645.7 L862.8,645.5 L863.8,645.2 L864.8,645.0 L865.8,644.7 L866.8,644.5 L867.8,644.3 L868.8,644.0 L869.8,643.8 L870.8,643.5 L871.8,643.3 L872.8,643.0 L873.8,642.8 L874.8,642.5 L875.8,642.3 L876.8,642.0 L877.8,641.8 L878.8,641.5 L879.8,641.3 L880.8,641.0 L881.8,640.8 L882.8,640.5 L883.8,640.3 L884.8,640.0 L885.8,639.8 L886.8,639.5 L887.8,639.3 L888.8,639.0 L889.8,638.8 L890.8,638.5 L891.8,638.2 L892.8,638.0 L893.8,637.7 L894.8,637.5 L895.8,637.2 L896.8,636.9 L897.8,636.7 L898.8,636.4 L899.8,636.2 L900.8,635.9 L901.8,635.6 L902.8,635.4 L903.8,635.1 L904.8,634.8 L905.8,634.6 L906.8,634.3 L907.8,634.1 L908.8,633.8 L909.8,633.5 L910.8,633.3 L911.8,633.0 L912.8,632.7 L913.8,632.5 L914.8,632.2 L915.8,631.9 L916.8,631.6 L917.8,631.4 L918.8,631.1 L919.8,630.8 L920.8,630.6 L921.8,630.3 L922.8,630.0 L923.8,629.7 L924.8,629.5 L925.8,629.2 L926.8,628.9 L927.9,628.6 L928.9,628.4 L929.9,628.1 L930.9,627.8 L931.9,627.5 L932.9,627.3 L933.9,627.0 L934.9,626.7 L935.9,626.4 L936.9,626.2 L937.9,625.9 L938.9,625.6 L939.9,625.3 L940.9,625.0 L941.9,624.7 L942.9,624.5 L943.9,624.2 L944.9,623.9 L945.9,623.6 L946.9,623.3 L947.9,623.0 L948.9,622.8 L949.9,622.5 L950.9,622.2 L951.9,621.9 L952.9,621.6 L953.9,621.3 L954.9,621.0 L955.9,620.7 L956.9,620.4 L957.9,620.1 L958.9,619.8 L959.9,619.5 L960.9,619.3 L961.9,619.0 L962.9,618.7 L963.9,618.4 L964.9,618.1 L965.9,617.8 L966.9,617.5 L967.9,617.2 L968.9,616.9 L969.9,616.6 L970.9,616.2 L971.9,615.9 L972.9,615.6 L973.9,615.3 L974.9,615.0 L975.9,614.7 L976.9,614.4 L977.9,614.1 L978.9,613.8 L979.9,613.5 L980.9,613.2 L981.9,612.8 L982.9,612.5 L983.9,612.2 L984.9,611.9 L985.9,611.6 L986.9,611.3 L987.9,610.9 L988.9,610.6" fill="none" stroke="#bd1f16" stroke-width="2.1" stroke-linejoin="round" stroke-linecap="butt"/>
<path d="M577.5,448.0 L577.5,764.2 L1008.5,764.2" fill="none" stroke="#000" stroke-width="1.3" stroke-linecap="butt"/>
<line x1="574.6" y1="750.1" x2="577.5" y2="750.1" stroke="#333" stroke-width="1.1"/>
<text class="at" x="571.9" y="753.5" text-anchor="end">0</text>
<line x1="574.6" y1="678.1" x2="577.5" y2="678.1" stroke="#333" stroke-width="1.1"/>
<text class="at" x="571.9" y="681.4" text-anchor="end">2</text>
<line x1="574.6" y1="606.1" x2="577.5" y2="606.1" stroke="#333" stroke-width="1.1"/>
<text class="at" x="571.9" y="609.4" text-anchor="end">4</text>
<line x1="574.6" y1="534.0" x2="577.5" y2="534.0" stroke="#333" stroke-width="1.1"/>
<text class="at" x="571.9" y="537.4" text-anchor="end">6</text>
<line x1="574.6" y1="462.0" x2="577.5" y2="462.0" stroke="#333" stroke-width="1.1"/>
<text class="at" x="571.9" y="465.4" text-anchor="end">8</text>
<line x1="596.7" y1="764.2" x2="596.7" y2="767.1" stroke="#333" stroke-width="1.1"/>
<text class="at" x="596.7" y="776.5" text-anchor="middle">0.0</text>
<line x1="707.0" y1="764.2" x2="707.0" y2="767.1" stroke="#333" stroke-width="1.1"/>
<text class="at" x="707.0" y="776.5" text-anchor="middle">2.5</text>
<line x1="817.2" y1="764.2" x2="817.2" y2="767.1" stroke="#333" stroke-width="1.1"/>
<text class="at" x="817.2" y="776.5" text-anchor="middle">5.0</text>
<line x1="927.5" y1="764.2" x2="927.5" y2="767.1" stroke="#333" stroke-width="1.1"/>
<text class="at" x="927.5" y="776.5" text-anchor="middle">7.5</text>
<text class="ti" transform="translate(561.5,606.1) rotate(-90)" text-anchor="middle">HR for CVD−caused mortality(95% CI)</text>
<text class="ti" x="793.8" y="789.5" text-anchor="middle">NLR</text>
<text class="pt" x="588.0" y="551.3">P-overall &lt; 0.0001</text>
<text class="pt" x="586.6" y="581.4">P-non-linear &lt; 0.0001</text>
<text class="lt" transform="translate(536.06,448.80) scale(1.06,1)">D</text>
<rect x="55" y="908.5" width="120" height="37.5" fill="#fdfefd"/>
<path d="M92.8,1071.9 L93.8,1073.5 L94.8,1075.1 L95.8,1076.7 L96.8,1078.2 L97.8,1079.8 L98.8,1081.3 L99.8,1082.8 L100.8,1084.3 L101.8,1085.8 L102.8,1087.2 L103.8,1088.7 L104.8,1090.1 L105.8,1091.5 L106.8,1092.9 L107.8,1094.3 L108.8,1095.7 L109.8,1097.0 L110.8,1098.4 L111.8,1099.7 L112.8,1101.0 L113.8,1102.3 L114.8,1103.6 L115.8,1104.9 L116.8,1106.1 L117.8,1107.4 L118.8,1108.6 L119.8,1109.8 L120.8,1111.0 L121.8,1112.2 L122.8,1113.3 L123.8,1114.4 L124.8,1115.5 L125.8,1116.5 L126.8,1117.4 L127.8,1118.3 L128.8,1119.2 L129.8,1120.0 L130.8,1120.8 L131.8,1121.5 L132.8,1122.1 L133.8,1122.7 L134.8,1123.2 L135.8,1123.7 L136.8,1124.0 L137.8,1124.3 L138.8,1124.6 L139.8,1124.8 L140.8,1124.9 L141.8,1124.9 L142.8,1124.9 L143.8,1124.9 L144.8,1124.7 L145.8,1124.5 L146.8,1124.3 L147.8,1124.0 L148.8,1123.6 L149.8,1123.2 L150.8,1122.7 L151.8,1122.2 L152.8,1121.6 L153.9,1121.0 L154.9,1120.3 L155.9,1119.6 L156.9,1118.8 L157.9,1118.1 L158.9,1117.3 L159.7,1116.7 L159.9,1116.5 L160.9,1115.5 L161.9,1114.4 L162.9,1113.2 L163.9,1112.0 L164.9,1110.7 L165.9,1109.4 L166.9,1108.0 L167.9,1106.5 L168.9,1105.1 L169.9,1103.6 L170.9,1102.1 L171.9,1100.6 L172.9,1099.1 L173.9,1097.5 L174.9,1096.0 L175.9,1094.4 L176.9,1092.8 L177.9,1091.3 L178.9,1089.7 L179.9,1088.1 L180.9,1086.5 L181.9,1084.9 L182.9,1083.3 L183.9,1081.6 L184.9,1080.0 L185.9,1078.2 L186.9,1076.5 L187.9,1074.8 L188.9,1073.0 L189.9,1071.2 L190.9,1069.4 L191.9,1067.6 L192.9,1065.7 L193.9,1063.9 L194.9,1062.0 L195.9,1060.1 L196.9,1058.3 L197.9,1056.4 L198.9,1054.5 L199.9,1052.7 L200.9,1050.8 L201.9,1049.0 L202.9,1047.1 L203.9,1045.3 L204.9,1043.4 L205.9,1041.6 L206.9,1039.8 L207.9,1038.0 L208.9,1036.2 L209.9,1034.5 L210.9,1032.7 L211.9,1031.0 L212.9,1029.4 L213.9,1027.7 L214.9,1026.1 L215.9,1024.6 L216.9,1023.0 L217.9,1021.5 L218.9,1020.1 L219.9,1018.7 L220.9,1017.3 L221.9,1016.0 L222.9,1014.7 L223.9,1013.5 L224.9,1012.3 L225.9,1011.2 L226.9,1010.1 L227.9,1009.0 L228.9,1008.0 L229.9,1007.0 L230.9,1006.1 L231.9,1005.2 L232.9,1004.4 L233.9,1003.5 L234.9,1002.8 L235.9,1002.0 L236.9,1001.3 L237.9,1000.7 L238.9,1000.0 L239.9,999.4 L240.9,998.8 L241.9,998.3 L242.9,997.8 L243.9,997.3 L244.9,996.8 L245.9,996.4 L246.9,996.0 L247.9,995.6 L248.9,995.2 L249.9,994.8 L250.9,994.5 L251.9,994.2 L252.9,993.9 L253.9,993.6 L254.9,993.4 L255.9,993.1 L256.9,992.9 L257.9,992.6 L258.9,992.4 L259.9,992.2 L260.9,992.0 L261.9,991.8 L262.9,991.7 L263.9,991.5 L264.9,991.3 L265.9,991.2 L266.9,991.0 L267.9,990.9 L268.9,990.8 L269.9,990.6 L270.9,990.5 L271.9,990.3 L272.9,990.2 L274.0,990.1 L275.0,989.9 L276.0,989.8 L277.0,989.7 L278.0,989.5 L279.0,989.4 L280.0,989.2 L281.0,989.1 L282.0,988.9 L283.0,988.8 L284.0,988.6 L285.0,988.5 L286.0,988.3 L287.0,988.1 L288.0,988.0 L289.0,987.8 L290.0,987.6 L291.0,987.5 L292.0,987.3 L293.0,987.1 L294.0,986.9 L295.0,986.8 L296.0,986.6 L297.0,986.4 L298.0,986.2 L299.0,986.0 L300.0,985.9 L301.0,985.7 L302.0,985.5 L303.0,985.3 L304.0,985.1 L305.0,984.9 L306.0,984.7 L307.0,984.5 L308.0,984.3 L309.0,984.1 L310.0,983.9 L311.0,983.7 L312.0,983.5 L313.0,983.3 L314.0,983.1 L315.0,982.9 L316.0,982.7 L317.0,982.5 L318.0,982.2 L319.0,982.0 L320.0,981.8 L321.0,981.6 L322.0,981.4 L323.0,981.1 L324.0,980.9 L325.0,980.7 L326.0,980.4 L327.0,980.2 L328.0,980.0 L329.0,979.7 L330.0,979.5 L331.0,979.2 L332.0,979.0 L333.0,978.8 L334.0,978.5 L335.0,978.2 L336.0,978.0 L337.0,977.7 L338.0,977.5 L339.0,977.2 L340.0,977.0 L341.0,976.7 L342.0,976.4 L343.0,976.2 L344.0,975.9 L345.0,975.6 L346.0,975.3 L347.0,975.1 L348.0,974.8 L349.0,974.5 L350.0,974.2 L351.0,973.9 L352.0,973.7 L353.0,973.4 L354.0,973.1 L355.0,972.8 L356.0,972.5 L357.0,972.2 L358.0,971.9 L359.0,971.6 L360.0,971.3 L361.0,971.0 L362.0,970.7 L363.0,970.4 L364.0,970.2 L365.0,969.9 L366.0,969.6 L367.0,969.3 L368.0,969.0 L369.0,968.7 L370.0,968.4 L371.0,968.1 L372.0,967.7 L373.0,967.4 L374.0,967.1 L375.0,966.8 L376.0,966.5 L377.0,966.2 L378.0,965.9 L379.0,965.6 L380.0,965.3 L381.0,965.0 L382.0,964.7 L383.0,964.4 L384.0,964.1 L385.0,963.8 L386.0,963.5 L387.0,963.1 L388.0,962.8 L389.0,962.5 L390.0,962.2 L391.0,961.9 L392.0,961.6 L393.0,961.3 L394.0,961.0 L395.1,960.7 L396.1,960.3 L397.1,960.0 L398.1,959.7 L399.1,959.4 L400.1,959.1 L401.1,958.8 L402.1,958.5 L403.1,958.1 L404.1,957.8 L405.1,957.5 L406.1,957.2 L407.1,956.9 L408.1,956.6 L409.1,956.3 L410.1,956.0 L411.1,955.6 L412.1,955.3 L413.1,955.0 L414.1,954.7 L415.1,954.4 L416.1,954.1 L417.1,953.8 L418.1,953.4 L419.1,953.1 L420.1,952.8 L421.1,952.5 L422.1,952.2 L423.1,951.9 L424.1,951.6 L425.1,951.2 L426.1,950.9 L427.1,950.6 L428.1,950.3 L429.1,950.0 L430.1,949.7 L431.1,949.4 L432.1,949.0 L433.1,948.7 L434.1,948.4 L435.1,948.1 L436.1,947.8 L437.1,947.5 L438.1,947.2 L439.1,946.9 L440.1,946.5 L441.1,946.2 L442.1,945.9 L443.1,945.6 L444.1,945.3 L445.1,945.0 L446.1,944.7 L447.1,944.4 L448.1,944.1 L449.1,943.8 L450.1,943.5 L451.1,943.3 L452.1,943.0 L453.1,942.7 L454.1,942.4 L455.1,942.2 L455.1,1078.9 L454.1,1078.8 L453.1,1078.8 L452.1,1078.8 L451.1,1078.7 L450.1,1078.7 L449.1,1078.7 L448.1,1078.7 L447.1,1078.6 L446.1,1078.6 L445.1,1078.6 L444.1,1078.5 L443.1,1078.5 L442.1,1078.5 L441.1,1078.5 L440.1,1078.4 L439.1,1078.4 L438.1,1078.4 L437.1,1078.3 L436.1,1078.3 L435.1,1078.3 L434.1,1078.3 L433.1,1078.2 L432.1,1078.2 L431.1,1078.2 L430.1,1078.2 L429.1,1078.1 L428.1,1078.1 L427.1,1078.1 L426.1,1078.1 L425.1,1078.0 L424.1,1078.0 L423.1,1078.0 L422.1,1078.0 L421.1,1077.9 L420.1,1077.9 L419.1,1077.9 L418.1,1077.9 L417.1,1077.8 L416.1,1077.8 L415.1,1077.8 L414.1,1077.8 L413.1,1077.8 L412.1,1077.7 L411.1,1077.7 L410.1,1077.7 L409.1,1077.7 L408.1,1077.7 L407.1,1077.6 L406.1,1077.6 L405.1,1077.6 L404.1,1077.6 L403.1,1077.6 L402.1,1077.6 L401.1,1077.5 L400.1,1077.5 L399.1,1077.5 L398.1,1077.5 L397.1,1077.5 L396.1,1077.5 L395.1,1077.5 L394.0,1077.4 L393.0,1077.4 L392.0,1077.4 L391.0,1077.4 L390.0,1077.4 L389.0,1077.4 L388.0,1077.4 L387.0,1077.3 L386.0,1077.3 L385.0,1077.3 L384.0,1077.3 L383.0,1077.3 L382.0,1077.3 L381.0,1077.3 L380.0,1077.3 L379.0,1077.3 L378.0,1077.3 L377.0,1077.2 L376.0,1077.2 L375.0,1077.2 L374.0,1077.2 L373.0,1077.2 L372.0,1077.2 L371.0,1077.2 L370.0,1077.2 L369.0,1077.2 L368.0,1077.2 L367.0,1077.2 L366.0,1077.2 L365.0,1077.2 L364.0,1077.2 L363.0,1077.2 L362.0,1077.2 L361.0,1077.2 L360.0,1077.2 L359.0,1077.2 L358.0,1077.2 L357.0,1077.2 L356.0,1077.2 L355.0,1077.2 L354.0,1077.2 L353.0,1077.2 L352.0,1077.2 L351.0,1077.2 L350.0,1077.2 L349.0,1077.2 L348.0,1077.2 L347.0,1077.2 L346.0,1077.3 L345.0,1077.3 L344.0,1077.3 L343.0,1077.3 L342.0,1077.3 L341.0,1077.3 L340.0,1077.3 L339.0,1077.4 L338.0,1077.4 L337.0,1077.4 L336.0,1077.4 L335.0,1077.4 L334.0,1077.4 L333.0,1077.5 L332.0,1077.5 L331.0,1077.5 L330.0,1077.5 L329.0,1077.6 L328.0,1077.6 L327.0,1077.6 L326.0,1077.6 L325.0,1077.7 L324.0,1077.7 L323.0,1077.7 L322.0,1077.8 L321.0,1077.8 L320.0,1077.8 L319.0,1077.9 L318.0,1077.9 L317.0,1077.9 L316.0,1078.0 L315.0,1078.0 L314.0,1078.0 L313.0,1078.1 L312.0,1078.1 L311.0,1078.1 L310.0,1078.2 L309.0,1078.2 L308.0,1078.3 L307.0,1078.3 L306.0,1078.4 L305.0,1078.4 L304.0,1078.4 L303.0,1078.5 L302.0,1078.5 L301.0,1078.6 L300.0,1078.6 L299.0,1078.7 L298.0,1078.7 L297.0,1078.8 L296.0,1078.8 L295.0,1078.9 L294.0,1079.0 L293.0,1079.0 L292.0,1079.1 L291.0,1079.1 L290.0,1079.2 L289.0,1079.2 L288.0,1079.3 L287.0,1079.4 L286.0,1079.4 L285.0,1079.5 L284.0,1079.5 L283.0,1079.6 L282.0,1079.7 L281.0,1079.7 L280.0,1079.8 L279.0,1079.9 L278.0,1079.9 L277.0,1080.0 L276.0,1080.1 L275.0,1080.2 L274.0,1080.2 L272.9,1080.3 L271.9,1080.4 L270.9,1080.5 L269.9,1080.6 L268.9,1080.6 L267.9,1080.7 L266.9,1080.8 L265.9,1080.9 L264.9,1081.0 L263.9,1081.1 L262.9,1081.2 L261.9,1081.3 L260.9,1081.4 L259.9,1081.5 L258.9,1081.6 L257.9,1081.8 L256.9,1081.9 L255.9,1082.0 L254.9,1082.1 L253.9,1082.3 L252.9,1082.4 L251.9,1082.5 L250.9,1082.7 L249.9,1082.8 L248.9,1083.0 L247.9,1083.1 L246.9,1083.2 L245.9,1083.4 L244.9,1083.5 L243.9,1083.7 L242.9,1083.9 L241.9,1084.0 L240.9,1084.2 L239.9,1084.3 L238.9,1084.5 L237.9,1084.7 L236.9,1084.8 L235.9,1085.0 L234.9,1085.2 L233.9,1085.4 L232.9,1085.5 L231.9,1085.7 L230.9,1085.9 L229.9,1086.1 L228.9,1086.3 L227.9,1086.5 L226.9,1086.7 L225.9,1086.9 L224.9,1087.2 L223.9,1087.4 L222.9,1087.6 L221.9,1087.9 L220.9,1088.1 L219.9,1088.4 L218.9,1088.7 L217.9,1089.0 L216.9,1089.2 L215.9,1089.5 L214.9,1089.9 L213.9,1090.2 L212.9,1090.5 L211.9,1090.8 L210.9,1091.2 L209.9,1091.5 L208.9,1091.9 L207.9,1092.3 L206.9,1092.6 L205.9,1093.0 L204.9,1093.4 L203.9,1093.8 L202.9,1094.2 L201.9,1094.6 L200.9,1095.0 L199.9,1095.4 L198.9,1095.8 L197.9,1096.2 L196.9,1096.7 L195.9,1097.1 L194.9,1097.5 L193.9,1097.9 L192.9,1098.3 L191.9,1098.7 L190.9,1099.1 L189.9,1099.5 L188.9,1099.9 L187.9,1100.3 L186.9,1100.8 L185.9,1101.2 L184.9,1101.6 L183.9,1102.1 L182.9,1102.6 L181.9,1103.1 L180.9,1103.6 L179.9,1104.1 L178.9,1104.6 L177.9,1105.1 L176.9,1105.7 L175.9,1106.2 L174.9,1106.8 L173.9,1107.4 L172.9,1108.0 L171.9,1108.6 L170.9,1109.3 L169.9,1109.9 L168.9,1110.6 L167.9,1111.3 L166.9,1111.9 L165.9,1112.6 L164.9,1113.3 L163.9,1113.9 L162.9,1114.6 L161.9,1115.3 L160.9,1115.9 L159.9,1116.6 L159.7,1116.7 L158.9,1117.6 L157.9,1118.6 L156.9,1119.6 L155.9,1120.6 L154.9,1121.6 L153.9,1122.5 L152.8,1123.4 L151.8,1124.2 L150.8,1125.1 L149.8,1125.9 L148.8,1126.7 L147.8,1127.5 L146.8,1128.4 L145.8,1129.2 L144.8,1130.0 L143.8,1130.9 L142.8,1131.7 L141.8,1132.6 L140.8,1133.4 L139.8,1134.3 L138.8,1135.2 L137.8,1136.0 L136.8,1136.9 L135.8,1137.8 L134.8,1138.7 L133.8,1139.6 L132.8,1140.5 L131.8,1141.4 L130.8,1142.3 L129.8,1143.2 L128.8,1144.1 L127.8,1145.0 L126.8,1145.9 L125.8,1146.8 L124.8,1147.7 L123.8,1148.6 L122.8,1149.5 L121.8,1150.4 L120.8,1151.3 L119.8,1152.2 L118.8,1153.1 L117.8,1154.0 L116.8,1154.9 L115.8,1155.7 L114.8,1156.6 L113.8,1157.5 L112.8,1158.4 L111.8,1159.2 L110.8,1160.1 L109.8,1161.0 L108.8,1161.8 L107.8,1162.7 L106.8,1163.5 L105.8,1164.4 L104.8,1165.2 L103.8,1166.0 L102.8,1166.9 L101.8,1167.7 L100.8,1168.5 L99.8,1169.3 L98.8,1170.1 L97.8,1170.8 L96.8,1171.6 L95.8,1172.4 L94.8,1173.1 L93.8,1173.9 L92.8,1174.6 Z" fill="#c4b1a6"/>
<line x1="45.3" y1="1116.8" x2="474.7" y2="1116.8" stroke="#f3a632" stroke-width="1.35" stroke-dasharray="4.45 4.45"/>
<path d="M92.8,1139.7 L93.8,1139.5 L94.8,1139.4 L95.8,1139.3 L96.8,1139.2 L97.8,1139.1 L98.8,1139.0 L99.8,1138.8 L100.8,1138.7 L101.8,1138.6 L102.8,1138.5 L103.8,1138.4 L104.8,1138.2 L105.8,1138.1 L106.8,1138.0 L107.8,1137.9 L108.8,1137.8 L109.8,1137.6 L110.8,1137.5 L111.8,1137.4 L112.8,1137.2 L113.8,1137.1 L114.8,1137.0 L115.8,1136.8 L116.8,1136.7 L117.8,1136.6 L118.8,1136.4 L119.8,1136.3 L120.8,1136.1 L121.8,1135.9 L122.8,1135.8 L123.8,1135.6 L124.8,1135.4 L125.8,1135.2 L126.8,1135.0 L127.8,1134.8 L128.8,1134.5 L129.8,1134.3 L130.8,1134.0 L131.8,1133.7 L132.8,1133.4 L133.8,1133.1 L134.8,1132.7 L135.8,1132.3 L136.8,1131.9 L137.8,1131.5 L138.8,1131.1 L139.8,1130.6 L140.8,1130.1 L141.8,1129.6 L142.8,1129.0 L143.8,1128.5 L144.8,1127.9 L145.8,1127.3 L146.8,1126.7 L147.8,1126.0 L148.8,1125.3 L149.8,1124.7 L150.8,1123.9 L151.8,1123.2 L152.8,1122.5 L153.9,1121.7 L154.9,1120.9 L155.9,1120.1 L156.9,1119.3 L157.9,1118.5 L158.9,1117.6 L159.7,1116.9 L159.9,1116.8 L160.9,1115.8 L161.9,1114.9 L162.9,1114.0 L163.9,1113.0 L164.9,1112.0 L165.9,1111.0 L166.9,1110.0 L167.9,1108.9 L168.9,1107.8 L169.9,1106.8 L170.9,1105.7 L171.9,1104.5 L172.9,1103.4 L173.9,1102.3 L174.9,1101.1 L175.9,1100.0 L176.9,1098.8 L177.9,1097.7 L178.9,1096.5 L179.9,1095.3 L180.9,1094.2 L181.9,1093.0 L182.9,1091.8 L183.9,1090.7 L184.9,1089.5 L185.9,1088.4 L186.9,1087.2 L187.9,1086.1 L188.9,1084.9 L189.9,1083.8 L190.9,1082.7 L191.9,1081.6 L192.9,1080.5 L193.9,1079.4 L194.9,1078.4 L195.9,1077.3 L196.9,1076.3 L197.9,1075.3 L198.9,1074.3 L199.9,1073.3 L200.9,1072.4 L201.9,1071.5 L202.9,1070.6 L203.9,1069.7 L204.9,1068.8 L205.9,1067.9 L206.9,1067.1 L207.9,1066.3 L208.9,1065.4 L209.9,1064.6 L210.9,1063.9 L211.9,1063.1 L212.9,1062.4 L213.9,1061.6 L214.9,1060.9 L215.9,1060.2 L216.9,1059.5 L217.9,1058.9 L218.9,1058.2 L219.9,1057.6 L220.9,1057.0 L221.9,1056.4 L222.9,1055.8 L223.9,1055.2 L224.9,1054.6 L225.9,1054.1 L226.9,1053.5 L227.9,1053.0 L228.9,1052.5 L229.9,1052.0 L230.9,1051.5 L231.9,1051.1 L232.9,1050.6 L233.9,1050.2 L234.9,1049.7 L235.9,1049.3 L236.9,1048.9 L237.9,1048.5 L238.9,1048.2 L239.9,1047.8 L240.9,1047.4 L241.9,1047.1 L242.9,1046.8 L243.9,1046.5 L244.9,1046.2 L245.9,1045.9 L246.9,1045.6 L247.9,1045.3 L248.9,1045.1 L249.9,1044.8 L250.9,1044.6 L251.9,1044.4 L252.9,1044.1 L253.9,1043.9 L254.9,1043.7 L255.9,1043.5 L256.9,1043.4 L257.9,1043.2 L258.9,1043.0 L259.9,1042.8 L260.9,1042.7 L261.9,1042.5 L262.9,1042.4 L263.9,1042.2 L264.9,1042.1 L265.9,1042.0 L266.9,1041.8 L267.9,1041.7 L268.9,1041.6 L269.9,1041.5 L270.9,1041.4 L271.9,1041.2 L272.9,1041.1 L274.0,1041.0 L275.0,1040.9 L276.0,1040.8 L277.0,1040.7 L278.0,1040.6 L279.0,1040.4 L280.0,1040.3 L281.0,1040.2 L282.0,1040.1 L283.0,1040.0 L284.0,1039.9 L285.0,1039.8 L286.0,1039.7 L287.0,1039.6 L288.0,1039.4 L289.0,1039.3 L290.0,1039.2 L291.0,1039.1 L292.0,1039.0 L293.0,1038.9 L294.0,1038.8 L295.0,1038.7 L296.0,1038.6 L297.0,1038.5 L298.0,1038.4 L299.0,1038.2 L300.0,1038.1 L301.0,1038.0 L302.0,1037.9 L303.0,1037.8 L304.0,1037.7 L305.0,1037.6 L306.0,1037.5 L307.0,1037.4 L308.0,1037.3 L309.0,1037.2 L310.0,1037.1 L311.0,1037.0 L312.0,1036.9 L313.0,1036.7 L314.0,1036.6 L315.0,1036.5 L316.0,1036.4 L317.0,1036.3 L318.0,1036.2 L319.0,1036.1 L320.0,1036.0 L321.0,1035.9 L322.0,1035.8 L323.0,1035.7 L324.0,1035.6 L325.0,1035.5 L326.0,1035.3 L327.0,1035.2 L328.0,1035.1 L329.0,1035.0 L330.0,1034.9 L331.0,1034.8 L332.0,1034.7 L333.0,1034.6 L334.0,1034.5 L335.0,1034.4 L336.0,1034.3 L337.0,1034.2 L338.0,1034.1 L339.0,1033.9 L340.0,1033.8 L341.0,1033.7 L342.0,1033.6 L343.0,1033.5 L344.0,1033.4 L345.0,1033.3 L346.0,1033.2 L347.0,1033.1 L348.0,1033.0 L349.0,1032.8 L350.0,1032.7 L351.0,1032.6 L352.0,1032.5 L353.0,1032.4 L354.0,1032.3 L355.0,1032.2 L356.0,1032.1 L357.0,1032.0 L358.0,1031.8 L359.0,1031.7 L360.0,1031.6 L361.0,1031.5 L362.0,1031.4 L363.0,1031.3 L364.0,1031.2 L365.0,1031.1 L366.0,1030.9 L367.0,1030.8 L368.0,1030.7 L369.0,1030.6 L370.0,1030.5 L371.0,1030.4 L372.0,1030.3 L373.0,1030.2 L374.0,1030.0 L375.0,1029.9 L376.0,1029.8 L377.0,1029.7 L378.0,1029.6 L379.0,1029.5 L380.0,1029.4 L381.0,1029.3 L382.0,1029.2 L383.0,1029.0 L384.0,1028.9 L385.0,1028.8 L386.0,1028.7 L387.0,1028.6 L388.0,1028.5 L389.0,1028.4 L390.0,1028.3 L391.0,1028.2 L392.0,1028.1 L393.0,1028.0 L394.0,1027.8 L395.1,1027.7 L396.1,1027.6 L397.1,1027.5 L398.1,1027.4 L399.1,1027.3 L400.1,1027.2 L401.1,1027.1 L402.1,1027.0 L403.1,1026.9 L404.1,1026.8 L405.1,1026.7 L406.1,1026.6 L407.1,1026.5 L408.1,1026.4 L409.1,1026.3 L410.1,1026.2 L411.1,1026.1 L412.1,1026.0 L413.1,1025.9 L414.1,1025.8 L415.1,1025.7 L416.1,1025.6 L417.1,1025.5 L418.1,1025.4 L419.1,1025.3 L420.1,1025.2 L421.1,1025.1 L422.1,1025.0 L423.1,1024.9 L424.1,1024.8 L425.1,1024.7 L426.1,1024.6 L427.1,1024.5 L428.1,1024.4 L429.1,1024.3 L430.1,1024.2 L431.1,1024.1 L432.1,1024.1 L433.1,1024.0 L434.1,1023.9 L435.1,1023.8 L436.1,1023.7 L437.1,1023.6 L438.1,1023.5 L439.1,1023.4 L440.1,1023.3 L441.1,1023.2 L442.1,1023.1 L443.1,1023.0 L444.1,1022.9 L445.1,1022.8 L446.1,1022.7 L447.1,1022.6 L448.1,1022.5 L449.1,1022.4 L450.1,1022.3 L451.1,1022.2 L452.1,1022.1 L453.1,1022.0 L454.1,1021.9 L455.1,1021.8" fill="none" stroke="#bd1f16" stroke-width="2.1" stroke-linejoin="round" stroke-linecap="butt"/>
<path d="M45.3,911.0 L45.3,1226.8 L474.7,1226.8" fill="none" stroke="#000" stroke-width="1.3" stroke-linecap="butt"/>
<line x1="42.4" y1="1212.5" x2="45.3" y2="1212.5" stroke="#333" stroke-width="1.1"/>
<text class="at" x="39.7" y="1215.8" text-anchor="end">0</text>
<line x1="42.4" y1="1116.7" x2="45.3" y2="1116.7" stroke="#333" stroke-width="1.1"/>
<text class="at" x="39.7" y="1120.0" text-anchor="end">1</text>
<line x1="42.4" y1="1020.9" x2="45.3" y2="1020.9" stroke="#333" stroke-width="1.1"/>
<text class="at" x="39.7" y="1024.2" text-anchor="end">2</text>
<line x1="42.4" y1="925.1" x2="45.3" y2="925.1" stroke="#333" stroke-width="1.1"/>
<text class="at" x="39.7" y="928.5" text-anchor="end">3</text>
<line x1="64.4" y1="1226.8" x2="64.4" y2="1229.7" stroke="#333" stroke-width="1.1"/>
<text class="at" x="64.4" y="1239.1" text-anchor="middle">0.0</text>
<line x1="178.2" y1="1226.8" x2="178.2" y2="1229.7" stroke="#333" stroke-width="1.1"/>
<text class="at" x="178.2" y="1239.1" text-anchor="middle">2.5</text>
<line x1="291.9" y1="1226.8" x2="291.9" y2="1229.7" stroke="#333" stroke-width="1.1"/>
<text class="at" x="291.9" y="1239.1" text-anchor="middle">5.0</text>
<line x1="405.6" y1="1226.8" x2="405.6" y2="1229.7" stroke="#333" stroke-width="1.1"/>
<text class="at" x="405.6" y="1239.1" text-anchor="middle">7.5</text>
<text class="ti" transform="translate(29.3,1068.9) rotate(-90)" text-anchor="middle">HR for ALL−caused mortality(95% CI)</text>
<text class="ti" x="260.8" y="1252.5" text-anchor="middle">NLR</text>
<text class="pt" x="87.0" y="983.8">P-overall &lt; 0.0001</text>
<text class="pt" x="85.0" y="1013.9">P-non-linear &lt; 0.0001</text>
<text class="lt" transform="translate(0.42,911.80) scale(0.97,1)">E</text>
<rect x="592.5" y="951" width="122.5" height="35" fill="#fdfefd"/>
<path d="M626.6,1091.9 L627.6,1093.6 L628.6,1095.3 L629.6,1096.9 L630.6,1098.6 L631.6,1100.2 L632.6,1101.8 L633.6,1103.4 L634.6,1104.9 L635.6,1106.4 L636.6,1107.9 L637.6,1109.4 L638.6,1110.9 L639.6,1112.3 L640.6,1113.7 L641.6,1115.1 L642.6,1116.5 L643.6,1117.8 L644.6,1119.1 L645.6,1120.4 L646.6,1121.7 L647.6,1122.9 L648.6,1124.2 L649.6,1125.4 L650.6,1126.6 L651.6,1127.7 L652.6,1128.9 L653.6,1130.0 L654.6,1131.1 L655.6,1132.2 L656.6,1133.2 L657.6,1134.2 L658.6,1135.2 L659.6,1136.2 L660.6,1137.2 L661.6,1138.0 L662.6,1138.8 L663.6,1139.5 L664.6,1140.1 L665.6,1140.6 L666.6,1141.0 L667.6,1141.3 L668.6,1141.6 L669.6,1141.8 L670.6,1141.9 L671.6,1142.0 L672.7,1142.0 L673.7,1142.0 L674.7,1141.9 L675.7,1141.7 L676.7,1141.5 L677.7,1141.3 L678.7,1141.0 L679.7,1140.7 L680.7,1140.3 L681.7,1139.9 L682.7,1139.5 L683.7,1139.0 L684.7,1138.5 L685.7,1138.0 L686.7,1137.5 L687.7,1137.0 L688.7,1136.4 L689.7,1135.9 L690.7,1135.3 L691.7,1134.7 L692.7,1134.2 L693.1,1133.9 L693.7,1133.1 L694.7,1131.6 L695.7,1130.2 L696.7,1128.6 L697.7,1127.1 L698.7,1125.5 L699.7,1123.9 L700.7,1122.2 L701.7,1120.3 L702.7,1118.4 L703.7,1116.5 L704.7,1114.5 L705.7,1112.4 L706.7,1110.3 L707.7,1108.2 L708.7,1106.1 L709.7,1103.9 L710.7,1101.7 L711.7,1099.5 L712.7,1097.3 L713.7,1095.0 L714.7,1092.8 L715.7,1090.5 L716.7,1088.2 L717.7,1085.9 L718.7,1083.6 L719.7,1081.3 L720.7,1079.1 L721.7,1076.8 L722.7,1074.5 L723.7,1072.2 L724.7,1070.0 L725.7,1067.8 L726.7,1065.6 L727.7,1063.4 L728.7,1061.3 L729.7,1059.1 L730.7,1057.0 L731.7,1054.9 L732.7,1052.9 L733.7,1050.9 L734.7,1048.9 L735.7,1046.9 L736.7,1045.0 L737.7,1043.1 L738.7,1041.3 L739.7,1039.5 L740.7,1037.7 L741.7,1036.0 L742.7,1034.4 L743.7,1032.7 L744.7,1031.2 L745.7,1029.6 L746.7,1028.1 L747.7,1026.7 L748.7,1025.3 L749.7,1023.9 L750.7,1022.6 L751.7,1021.4 L752.7,1020.2 L753.7,1019.0 L754.7,1017.9 L755.7,1016.8 L756.7,1015.7 L757.7,1014.7 L758.7,1013.8 L759.7,1012.9 L760.7,1012.0 L761.7,1011.2 L762.8,1010.4 L763.8,1009.6 L764.8,1008.9 L765.8,1008.2 L766.8,1007.6 L767.8,1006.9 L768.8,1006.4 L769.8,1005.8 L770.8,1005.3 L771.8,1004.8 L772.8,1004.4 L773.8,1004.0 L774.8,1003.6 L775.8,1003.2 L776.8,1002.9 L777.8,1002.5 L778.8,1002.3 L779.8,1002.0 L780.8,1001.7 L781.8,1001.5 L782.8,1001.3 L783.8,1001.1 L784.8,1001.0 L785.8,1000.8 L786.8,1000.7 L787.8,1000.6 L788.8,1000.5 L789.8,1000.4 L790.8,1000.3 L791.8,1000.2 L792.8,1000.2 L793.8,1000.1 L794.8,1000.1 L795.8,1000.0 L796.8,1000.0 L797.8,1000.0 L798.8,1000.0 L799.8,1000.0 L800.8,999.9 L801.8,999.9 L802.8,999.9 L803.8,999.9 L804.8,999.9 L805.8,999.8 L806.8,999.8 L807.8,999.8 L808.8,999.8 L809.8,999.7 L810.8,999.7 L811.8,999.6 L812.8,999.6 L813.8,999.5 L814.8,999.5 L815.8,999.4 L816.8,999.3 L817.8,999.3 L818.8,999.2 L819.8,999.1 L820.8,999.0 L821.8,998.9 L822.8,998.8 L823.8,998.7 L824.8,998.6 L825.8,998.5 L826.8,998.4 L827.8,998.2 L828.8,998.1 L829.8,998.0 L830.8,997.8 L831.8,997.7 L832.8,997.5 L833.8,997.4 L834.8,997.2 L835.8,997.0 L836.8,996.8 L837.8,996.7 L838.8,996.5 L839.8,996.3 L840.8,996.1 L841.8,995.9 L842.8,995.7 L843.8,995.5 L844.8,995.2 L845.8,995.0 L846.8,994.8 L847.8,994.5 L848.8,994.3 L849.8,994.1 L850.8,993.8 L851.8,993.5 L852.9,993.3 L853.9,993.0 L854.9,992.7 L855.9,992.5 L856.9,992.2 L857.9,991.9 L858.9,991.6 L859.9,991.3 L860.9,991.0 L861.9,990.7 L862.9,990.4 L863.9,990.1 L864.9,989.7 L865.9,989.4 L866.9,989.1 L867.9,988.7 L868.9,988.4 L869.9,988.0 L870.9,987.7 L871.9,987.3 L872.9,987.0 L873.9,986.6 L874.9,986.2 L875.9,985.9 L876.9,985.5 L877.9,985.1 L878.9,984.7 L879.9,984.3 L880.9,983.9 L881.9,983.5 L882.9,983.1 L883.9,982.7 L884.9,982.3 L885.9,981.9 L886.9,981.4 L887.9,981.0 L888.9,980.6 L889.9,980.2 L890.9,979.7 L891.9,979.3 L892.9,978.9 L893.9,978.4 L894.9,978.0 L895.9,977.5 L896.9,977.1 L897.9,976.6 L898.9,976.2 L899.9,975.7 L900.9,975.2 L901.9,974.8 L902.9,974.3 L903.9,973.9 L904.9,973.4 L905.9,972.9 L906.9,972.4 L907.9,972.0 L908.9,971.5 L909.9,971.0 L910.9,970.5 L911.9,970.1 L912.9,969.6 L913.9,969.1 L914.9,968.6 L915.9,968.1 L916.9,967.6 L917.9,967.2 L918.9,966.7 L919.9,966.2 L920.9,965.7 L921.9,965.2 L922.9,964.7 L923.9,964.2 L924.9,963.7 L925.9,963.2 L926.9,962.7 L927.9,962.2 L928.9,961.7 L929.9,961.3 L930.9,960.8 L931.9,960.3 L932.9,959.8 L933.9,959.3 L934.9,958.8 L935.9,958.3 L936.9,957.8 L937.9,957.3 L938.9,956.7 L939.9,956.2 L940.9,955.7 L941.9,955.2 L943.0,954.7 L944.0,954.2 L945.0,953.7 L946.0,953.2 L947.0,952.7 L948.0,952.2 L949.0,951.7 L950.0,951.2 L951.0,950.7 L952.0,950.1 L953.0,949.6 L954.0,949.1 L955.0,948.6 L956.0,948.1 L957.0,947.6 L958.0,947.0 L959.0,946.5 L960.0,946.0 L961.0,945.5 L962.0,945.0 L963.0,944.5 L964.0,943.9 L965.0,943.4 L966.0,942.9 L967.0,942.4 L968.0,941.8 L969.0,941.3 L970.0,940.8 L971.0,940.3 L972.0,939.8 L973.0,939.3 L974.0,938.7 L975.0,938.2 L976.0,937.7 L977.0,937.2 L978.0,936.7 L979.0,936.2 L980.0,935.7 L981.0,935.2 L982.0,934.7 L983.0,934.3 L984.0,933.8 L985.0,933.3 L986.0,932.9 L987.0,932.5 L988.0,932.0 L988.0,1158.7 L987.0,1158.6 L986.0,1158.5 L985.0,1158.3 L984.0,1158.2 L983.0,1158.1 L982.0,1157.9 L981.0,1157.8 L980.0,1157.7 L979.0,1157.5 L978.0,1157.4 L977.0,1157.2 L976.0,1157.1 L975.0,1156.9 L974.0,1156.8 L973.0,1156.6 L972.0,1156.5 L971.0,1156.3 L970.0,1156.2 L969.0,1156.0 L968.0,1155.8 L967.0,1155.7 L966.0,1155.5 L965.0,1155.4 L964.0,1155.2 L963.0,1155.0 L962.0,1154.9 L961.0,1154.7 L960.0,1154.6 L959.0,1154.4 L958.0,1154.2 L957.0,1154.1 L956.0,1153.9 L955.0,1153.7 L954.0,1153.6 L953.0,1153.4 L952.0,1153.3 L951.0,1153.1 L950.0,1152.9 L949.0,1152.8 L948.0,1152.6 L947.0,1152.4 L946.0,1152.3 L945.0,1152.1 L944.0,1151.9 L943.0,1151.8 L941.9,1151.6 L940.9,1151.4 L939.9,1151.3 L938.9,1151.1 L937.9,1150.9 L936.9,1150.8 L935.9,1150.6 L934.9,1150.4 L933.9,1150.2 L932.9,1150.1 L931.9,1149.9 L930.9,1149.7 L929.9,1149.6 L928.9,1149.4 L927.9,1149.2 L926.9,1149.0 L925.9,1148.9 L924.9,1148.7 L923.9,1148.5 L922.9,1148.3 L921.9,1148.2 L920.9,1148.0 L919.9,1147.8 L918.9,1147.6 L917.9,1147.5 L916.9,1147.3 L915.9,1147.1 L914.9,1146.9 L913.9,1146.7 L912.9,1146.6 L911.9,1146.4 L910.9,1146.2 L909.9,1146.0 L908.9,1145.8 L907.9,1145.6 L906.9,1145.5 L905.9,1145.3 L904.9,1145.1 L903.9,1144.9 L902.9,1144.7 L901.9,1144.5 L900.9,1144.4 L899.9,1144.2 L898.9,1144.0 L897.9,1143.8 L896.9,1143.6 L895.9,1143.4 L894.9,1143.2 L893.9,1143.0 L892.9,1142.9 L891.9,1142.7 L890.9,1142.5 L889.9,1142.3 L888.9,1142.1 L887.9,1141.9 L886.9,1141.7 L885.9,1141.5 L884.9,1141.4 L883.9,1141.2 L882.9,1141.0 L881.9,1140.8 L880.9,1140.6 L879.9,1140.4 L878.9,1140.2 L877.9,1140.0 L876.9,1139.9 L875.9,1139.7 L874.9,1139.5 L873.9,1139.3 L872.9,1139.1 L871.9,1138.9 L870.9,1138.8 L869.9,1138.6 L868.9,1138.4 L867.9,1138.2 L866.9,1138.0 L865.9,1137.8 L864.9,1137.7 L863.9,1137.5 L862.9,1137.3 L861.9,1137.1 L860.9,1136.9 L859.9,1136.8 L858.9,1136.6 L857.9,1136.4 L856.9,1136.2 L855.9,1136.1 L854.9,1135.9 L853.9,1135.7 L852.9,1135.5 L851.8,1135.4 L850.8,1135.2 L849.8,1135.0 L848.8,1134.9 L847.8,1134.7 L846.8,1134.5 L845.8,1134.4 L844.8,1134.2 L843.8,1134.0 L842.8,1133.9 L841.8,1133.7 L840.8,1133.5 L839.8,1133.4 L838.8,1133.2 L837.8,1133.1 L836.8,1132.9 L835.8,1132.8 L834.8,1132.6 L833.8,1132.5 L832.8,1132.3 L831.8,1132.1 L830.8,1132.0 L829.8,1131.8 L828.8,1131.7 L827.8,1131.6 L826.8,1131.4 L825.8,1131.3 L824.8,1131.1 L823.8,1131.0 L822.8,1130.8 L821.8,1130.7 L820.8,1130.6 L819.8,1130.4 L818.8,1130.3 L817.8,1130.2 L816.8,1130.0 L815.8,1129.9 L814.8,1129.8 L813.8,1129.6 L812.8,1129.5 L811.8,1129.4 L810.8,1129.3 L809.8,1129.2 L808.8,1129.0 L807.8,1128.9 L806.8,1128.8 L805.8,1128.7 L804.8,1128.6 L803.8,1128.5 L802.8,1128.4 L801.8,1128.3 L800.8,1128.2 L799.8,1128.1 L798.8,1128.0 L797.8,1127.9 L796.8,1127.9 L795.8,1127.8 L794.8,1127.7 L793.8,1127.6 L792.8,1127.6 L791.8,1127.5 L790.8,1127.4 L789.8,1127.4 L788.8,1127.3 L787.8,1127.3 L786.8,1127.2 L785.8,1127.2 L784.8,1127.2 L783.8,1127.1 L782.8,1127.1 L781.8,1127.1 L780.8,1127.1 L779.8,1127.0 L778.8,1127.0 L777.8,1127.0 L776.8,1127.0 L775.8,1127.0 L774.8,1127.0 L773.8,1127.0 L772.8,1127.0 L771.8,1127.0 L770.8,1127.0 L769.8,1127.0 L768.8,1127.0 L767.8,1127.0 L766.8,1127.0 L765.8,1127.1 L764.8,1127.1 L763.8,1127.1 L762.8,1127.1 L761.7,1127.2 L760.7,1127.2 L759.7,1127.3 L758.7,1127.3 L757.7,1127.3 L756.7,1127.4 L755.7,1127.4 L754.7,1127.4 L753.7,1127.5 L752.7,1127.5 L751.7,1127.6 L750.7,1127.6 L749.7,1127.7 L748.7,1127.7 L747.7,1127.7 L746.7,1127.8 L745.7,1127.8 L744.7,1127.9 L743.7,1127.9 L742.7,1128.0 L741.7,1128.0 L740.7,1128.1 L739.7,1128.1 L738.7,1128.2 L737.7,1128.2 L736.7,1128.3 L735.7,1128.3 L734.7,1128.4 L733.7,1128.4 L732.7,1128.5 L731.7,1128.5 L730.7,1128.6 L729.7,1128.6 L728.7,1128.7 L727.7,1128.7 L726.7,1128.8 L725.7,1128.8 L724.7,1128.8 L723.7,1128.9 L722.7,1128.9 L721.7,1129.0 L720.7,1129.0 L719.7,1129.0 L718.7,1129.1 L717.7,1129.1 L716.7,1129.1 L715.7,1129.2 L714.7,1129.2 L713.7,1129.3 L712.7,1129.4 L711.7,1129.4 L710.7,1129.5 L709.7,1129.6 L708.7,1129.7 L707.7,1129.8 L706.7,1130.0 L705.7,1130.1 L704.7,1130.3 L703.7,1130.5 L702.7,1130.7 L701.7,1131.0 L700.7,1131.2 L699.7,1131.5 L698.7,1131.7 L697.7,1132.1 L696.7,1132.4 L695.7,1132.8 L694.7,1133.2 L693.7,1133.7 L693.1,1134.0 L692.7,1134.6 L691.7,1136.0 L690.7,1137.5 L689.7,1138.9 L688.7,1140.3 L687.7,1141.6 L686.7,1142.9 L685.7,1144.2 L684.7,1145.4 L683.7,1146.7 L682.7,1147.9 L681.7,1149.1 L680.7,1150.4 L679.7,1151.6 L678.7,1152.8 L677.7,1154.1 L676.7,1155.3 L675.7,1156.6 L674.7,1157.8 L673.7,1159.1 L672.7,1160.4 L671.6,1161.7 L670.6,1163.0 L669.6,1164.4 L668.6,1165.7 L667.6,1167.1 L666.6,1168.5 L665.6,1169.9 L664.6,1171.3 L663.6,1172.7 L662.6,1174.1 L661.6,1175.5 L660.6,1176.9 L659.6,1178.3 L658.6,1179.7 L657.6,1181.0 L656.6,1182.3 L655.6,1183.6 L654.6,1184.8 L653.6,1186.0 L652.6,1187.1 L651.6,1188.3 L650.6,1189.3 L649.6,1190.4 L648.6,1191.4 L647.6,1192.4 L646.6,1193.3 L645.6,1194.2 L644.6,1195.0 L643.6,1195.9 L642.6,1196.7 L641.6,1197.5 L640.6,1198.2 L639.6,1198.9 L638.6,1199.6 L637.6,1200.2 L636.6,1200.9 L635.6,1201.5 L634.6,1202.0 L633.6,1202.6 L632.6,1203.1 L631.6,1203.6 L630.6,1204.1 L629.6,1204.6 L628.6,1205.1 L627.6,1205.5 L626.6,1205.9 Z" fill="#c4b1a6"/>
<line x1="578.9" y1="1133.9" x2="1007.5" y2="1133.9" stroke="#f3a632" stroke-width="1.35" stroke-dasharray="4.45 4.45"/>
<path d="M626.6,1181.0 L627.6,1180.5 L628.6,1180.1 L629.6,1179.6 L630.6,1179.1 L631.6,1178.6 L632.6,1178.1 L633.6,1177.6 L634.6,1177.1 L635.6,1176.6 L636.6,1176.1 L637.6,1175.6 L638.6,1175.0 L639.6,1174.5 L640.6,1173.9 L641.6,1173.4 L642.6,1172.8 L643.6,1172.3 L644.6,1171.7 L645.6,1171.1 L646.6,1170.5 L647.6,1169.9 L648.6,1169.3 L649.6,1168.7 L650.6,1168.1 L651.6,1167.5 L652.6,1166.8 L653.6,1166.2 L654.6,1165.5 L655.6,1164.9 L656.6,1164.2 L657.6,1163.6 L658.6,1162.9 L659.6,1162.2 L660.6,1161.6 L661.6,1160.9 L662.6,1160.2 L663.6,1159.5 L664.6,1158.8 L665.6,1158.0 L666.6,1157.3 L667.6,1156.6 L668.6,1155.8 L669.6,1155.0 L670.6,1154.3 L671.6,1153.5 L672.7,1152.7 L673.7,1151.9 L674.7,1151.1 L675.7,1150.3 L676.7,1149.5 L677.7,1148.6 L678.7,1147.8 L679.7,1146.9 L680.7,1146.1 L681.7,1145.2 L682.7,1144.3 L683.7,1143.4 L684.7,1142.5 L685.7,1141.6 L686.7,1140.6 L687.7,1139.7 L688.7,1138.7 L689.7,1137.8 L690.7,1136.8 L691.7,1135.8 L692.7,1134.8 L693.1,1134.4 L693.7,1133.8 L694.7,1132.7 L695.7,1131.7 L696.7,1130.6 L697.7,1129.6 L698.7,1128.5 L699.7,1127.4 L700.7,1126.3 L701.7,1125.3 L702.7,1124.2 L703.7,1123.1 L704.7,1122.0 L705.7,1120.9 L706.7,1119.8 L707.7,1118.7 L708.7,1117.6 L709.7,1116.5 L710.7,1115.4 L711.7,1114.4 L712.7,1113.3 L713.7,1112.3 L714.7,1111.2 L715.7,1110.2 L716.7,1109.2 L717.7,1108.2 L718.7,1107.2 L719.7,1106.3 L720.7,1105.4 L721.7,1104.4 L722.7,1103.5 L723.7,1102.7 L724.7,1101.8 L725.7,1101.0 L726.7,1100.1 L727.7,1099.3 L728.7,1098.5 L729.7,1097.7 L730.7,1097.0 L731.7,1096.2 L732.7,1095.5 L733.7,1094.8 L734.7,1094.1 L735.7,1093.4 L736.7,1092.7 L737.7,1092.1 L738.7,1091.4 L739.7,1090.8 L740.7,1090.2 L741.7,1089.6 L742.7,1089.0 L743.7,1088.4 L744.7,1087.8 L745.7,1087.3 L746.7,1086.7 L747.7,1086.2 L748.7,1085.7 L749.7,1085.2 L750.7,1084.8 L751.7,1084.3 L752.7,1083.8 L753.7,1083.4 L754.7,1083.0 L755.7,1082.6 L756.7,1082.2 L757.7,1081.9 L758.7,1081.5 L759.7,1081.2 L760.7,1080.8 L761.7,1080.5 L762.8,1080.3 L763.8,1080.0 L764.8,1079.7 L765.8,1079.5 L766.8,1079.2 L767.8,1079.0 L768.8,1078.8 L769.8,1078.6 L770.8,1078.5 L771.8,1078.3 L772.8,1078.2 L773.8,1078.0 L774.8,1077.9 L775.8,1077.8 L776.8,1077.7 L777.8,1077.6 L778.8,1077.5 L779.8,1077.4 L780.8,1077.4 L781.8,1077.3 L782.8,1077.3 L783.8,1077.2 L784.8,1077.2 L785.8,1077.2 L786.8,1077.2 L787.8,1077.2 L788.8,1077.2 L789.8,1077.2 L790.8,1077.2 L791.8,1077.2 L792.8,1077.2 L793.8,1077.2 L794.8,1077.3 L795.8,1077.3 L796.8,1077.3 L797.8,1077.4 L798.8,1077.4 L799.8,1077.5 L800.8,1077.5 L801.8,1077.6 L802.8,1077.6 L803.8,1077.7 L804.8,1077.7 L805.8,1077.8 L806.8,1077.8 L807.8,1077.9 L808.8,1078.0 L809.8,1078.0 L810.8,1078.1 L811.8,1078.2 L812.8,1078.2 L813.8,1078.3 L814.8,1078.3 L815.8,1078.4 L816.8,1078.5 L817.8,1078.5 L818.8,1078.6 L819.8,1078.7 L820.8,1078.8 L821.8,1078.8 L822.8,1078.9 L823.8,1079.0 L824.8,1079.0 L825.8,1079.1 L826.8,1079.2 L827.8,1079.3 L828.8,1079.3 L829.8,1079.4 L830.8,1079.5 L831.8,1079.6 L832.8,1079.6 L833.8,1079.7 L834.8,1079.8 L835.8,1079.9 L836.8,1079.9 L837.8,1080.0 L838.8,1080.1 L839.8,1080.2 L840.8,1080.2 L841.8,1080.3 L842.8,1080.4 L843.8,1080.5 L844.8,1080.5 L845.8,1080.6 L846.8,1080.7 L847.8,1080.8 L848.8,1080.8 L849.8,1080.9 L850.8,1081.0 L851.8,1081.1 L852.9,1081.1 L853.9,1081.2 L854.9,1081.3 L855.9,1081.4 L856.9,1081.4 L857.9,1081.5 L858.9,1081.6 L859.9,1081.7 L860.9,1081.7 L861.9,1081.8 L862.9,1081.9 L863.9,1081.9 L864.9,1082.0 L865.9,1082.1 L866.9,1082.2 L867.9,1082.2 L868.9,1082.3 L869.9,1082.4 L870.9,1082.4 L871.9,1082.5 L872.9,1082.6 L873.9,1082.7 L874.9,1082.7 L875.9,1082.8 L876.9,1082.9 L877.9,1082.9 L878.9,1083.0 L879.9,1083.1 L880.9,1083.1 L881.9,1083.2 L882.9,1083.3 L883.9,1083.3 L884.9,1083.4 L885.9,1083.5 L886.9,1083.5 L887.9,1083.6 L888.9,1083.7 L889.9,1083.7 L890.9,1083.8 L891.9,1083.8 L892.9,1083.9 L893.9,1084.0 L894.9,1084.0 L895.9,1084.1 L896.9,1084.2 L897.9,1084.2 L898.9,1084.3 L899.9,1084.3 L900.9,1084.4 L901.9,1084.5 L902.9,1084.5 L903.9,1084.6 L904.9,1084.6 L905.9,1084.7 L906.9,1084.8 L907.9,1084.8 L908.9,1084.9 L909.9,1084.9 L910.9,1085.0 L911.9,1085.0 L912.9,1085.1 L913.9,1085.2 L914.9,1085.2 L915.9,1085.3 L916.9,1085.3 L917.9,1085.4 L918.9,1085.4 L919.9,1085.5 L920.9,1085.6 L921.9,1085.6 L922.9,1085.7 L923.9,1085.7 L924.9,1085.8 L925.9,1085.8 L926.9,1085.9 L927.9,1085.9 L928.9,1086.0 L929.9,1086.0 L930.9,1086.1 L931.9,1086.1 L932.9,1086.2 L933.9,1086.2 L934.9,1086.3 L935.9,1086.4 L936.9,1086.4 L937.9,1086.5 L938.9,1086.5 L939.9,1086.6 L940.9,1086.6 L941.9,1086.7 L943.0,1086.7 L944.0,1086.8 L945.0,1086.8 L946.0,1086.9 L947.0,1086.9 L948.0,1087.0 L949.0,1087.0 L950.0,1087.1 L951.0,1087.1 L952.0,1087.2 L953.0,1087.2 L954.0,1087.3 L955.0,1087.3 L956.0,1087.4 L957.0,1087.4 L958.0,1087.5 L959.0,1087.5 L960.0,1087.6 L961.0,1087.7 L962.0,1087.7 L963.0,1087.8 L964.0,1087.8 L965.0,1087.9 L966.0,1087.9 L967.0,1088.0 L968.0,1088.0 L969.0,1088.1 L970.0,1088.1 L971.0,1088.2 L972.0,1088.2 L973.0,1088.3 L974.0,1088.3 L975.0,1088.4 L976.0,1088.4 L977.0,1088.5 L978.0,1088.5 L979.0,1088.6 L980.0,1088.6 L981.0,1088.7 L982.0,1088.7 L983.0,1088.8 L984.0,1088.9 L985.0,1088.9 L986.0,1089.0 L987.0,1089.0 L988.0,1089.1" fill="none" stroke="#bd1f16" stroke-width="2.1" stroke-linejoin="round" stroke-linecap="butt"/>
<path d="M578.9,915.0 L578.9,1229.8 L1007.5,1229.8" fill="none" stroke="#000" stroke-width="1.3" stroke-linecap="butt"/>
<line x1="576.0" y1="1215.8" x2="578.9" y2="1215.8" stroke="#333" stroke-width="1.1"/>
<text class="at" x="573.3" y="1219.1" text-anchor="end">0</text>
<line x1="576.0" y1="1134.0" x2="578.9" y2="1134.0" stroke="#333" stroke-width="1.1"/>
<text class="at" x="573.3" y="1137.3" text-anchor="end">1</text>
<line x1="576.0" y1="1052.1" x2="578.9" y2="1052.1" stroke="#333" stroke-width="1.1"/>
<text class="at" x="573.3" y="1055.4" text-anchor="end">2</text>
<line x1="576.0" y1="970.2" x2="578.9" y2="970.2" stroke="#333" stroke-width="1.1"/>
<text class="at" x="573.3" y="973.6" text-anchor="end">3</text>
<line x1="598.7" y1="1229.8" x2="598.7" y2="1232.7" stroke="#333" stroke-width="1.1"/>
<text class="at" x="598.7" y="1242.1" text-anchor="middle">0.0</text>
<line x1="712.2" y1="1229.8" x2="712.2" y2="1232.7" stroke="#333" stroke-width="1.1"/>
<text class="at" x="712.2" y="1242.1" text-anchor="middle">2.5</text>
<line x1="825.7" y1="1229.8" x2="825.7" y2="1232.7" stroke="#333" stroke-width="1.1"/>
<text class="at" x="825.7" y="1242.1" text-anchor="middle">5.0</text>
<line x1="939.2" y1="1229.8" x2="939.2" y2="1232.7" stroke="#333" stroke-width="1.1"/>
<text class="at" x="939.2" y="1242.1" text-anchor="middle">7.5</text>
<text class="ti" transform="translate(562.9,1072.4) rotate(-90)" text-anchor="middle">HR for CVD−caused mortality(95% CI)</text>
<text class="ti" x="794.0" y="1255.0" text-anchor="middle">NLR</text>
<text class="pt" x="596.0" y="978.7">P-overall &lt; 0.0001</text>
<text class="pt" x="594.1" y="1009.4">P-non-linear &lt; 0.0001</text>
<text class="lt" transform="translate(535.54,911.80) scale(0.93,1)">F</text>
</svg></body></html>
